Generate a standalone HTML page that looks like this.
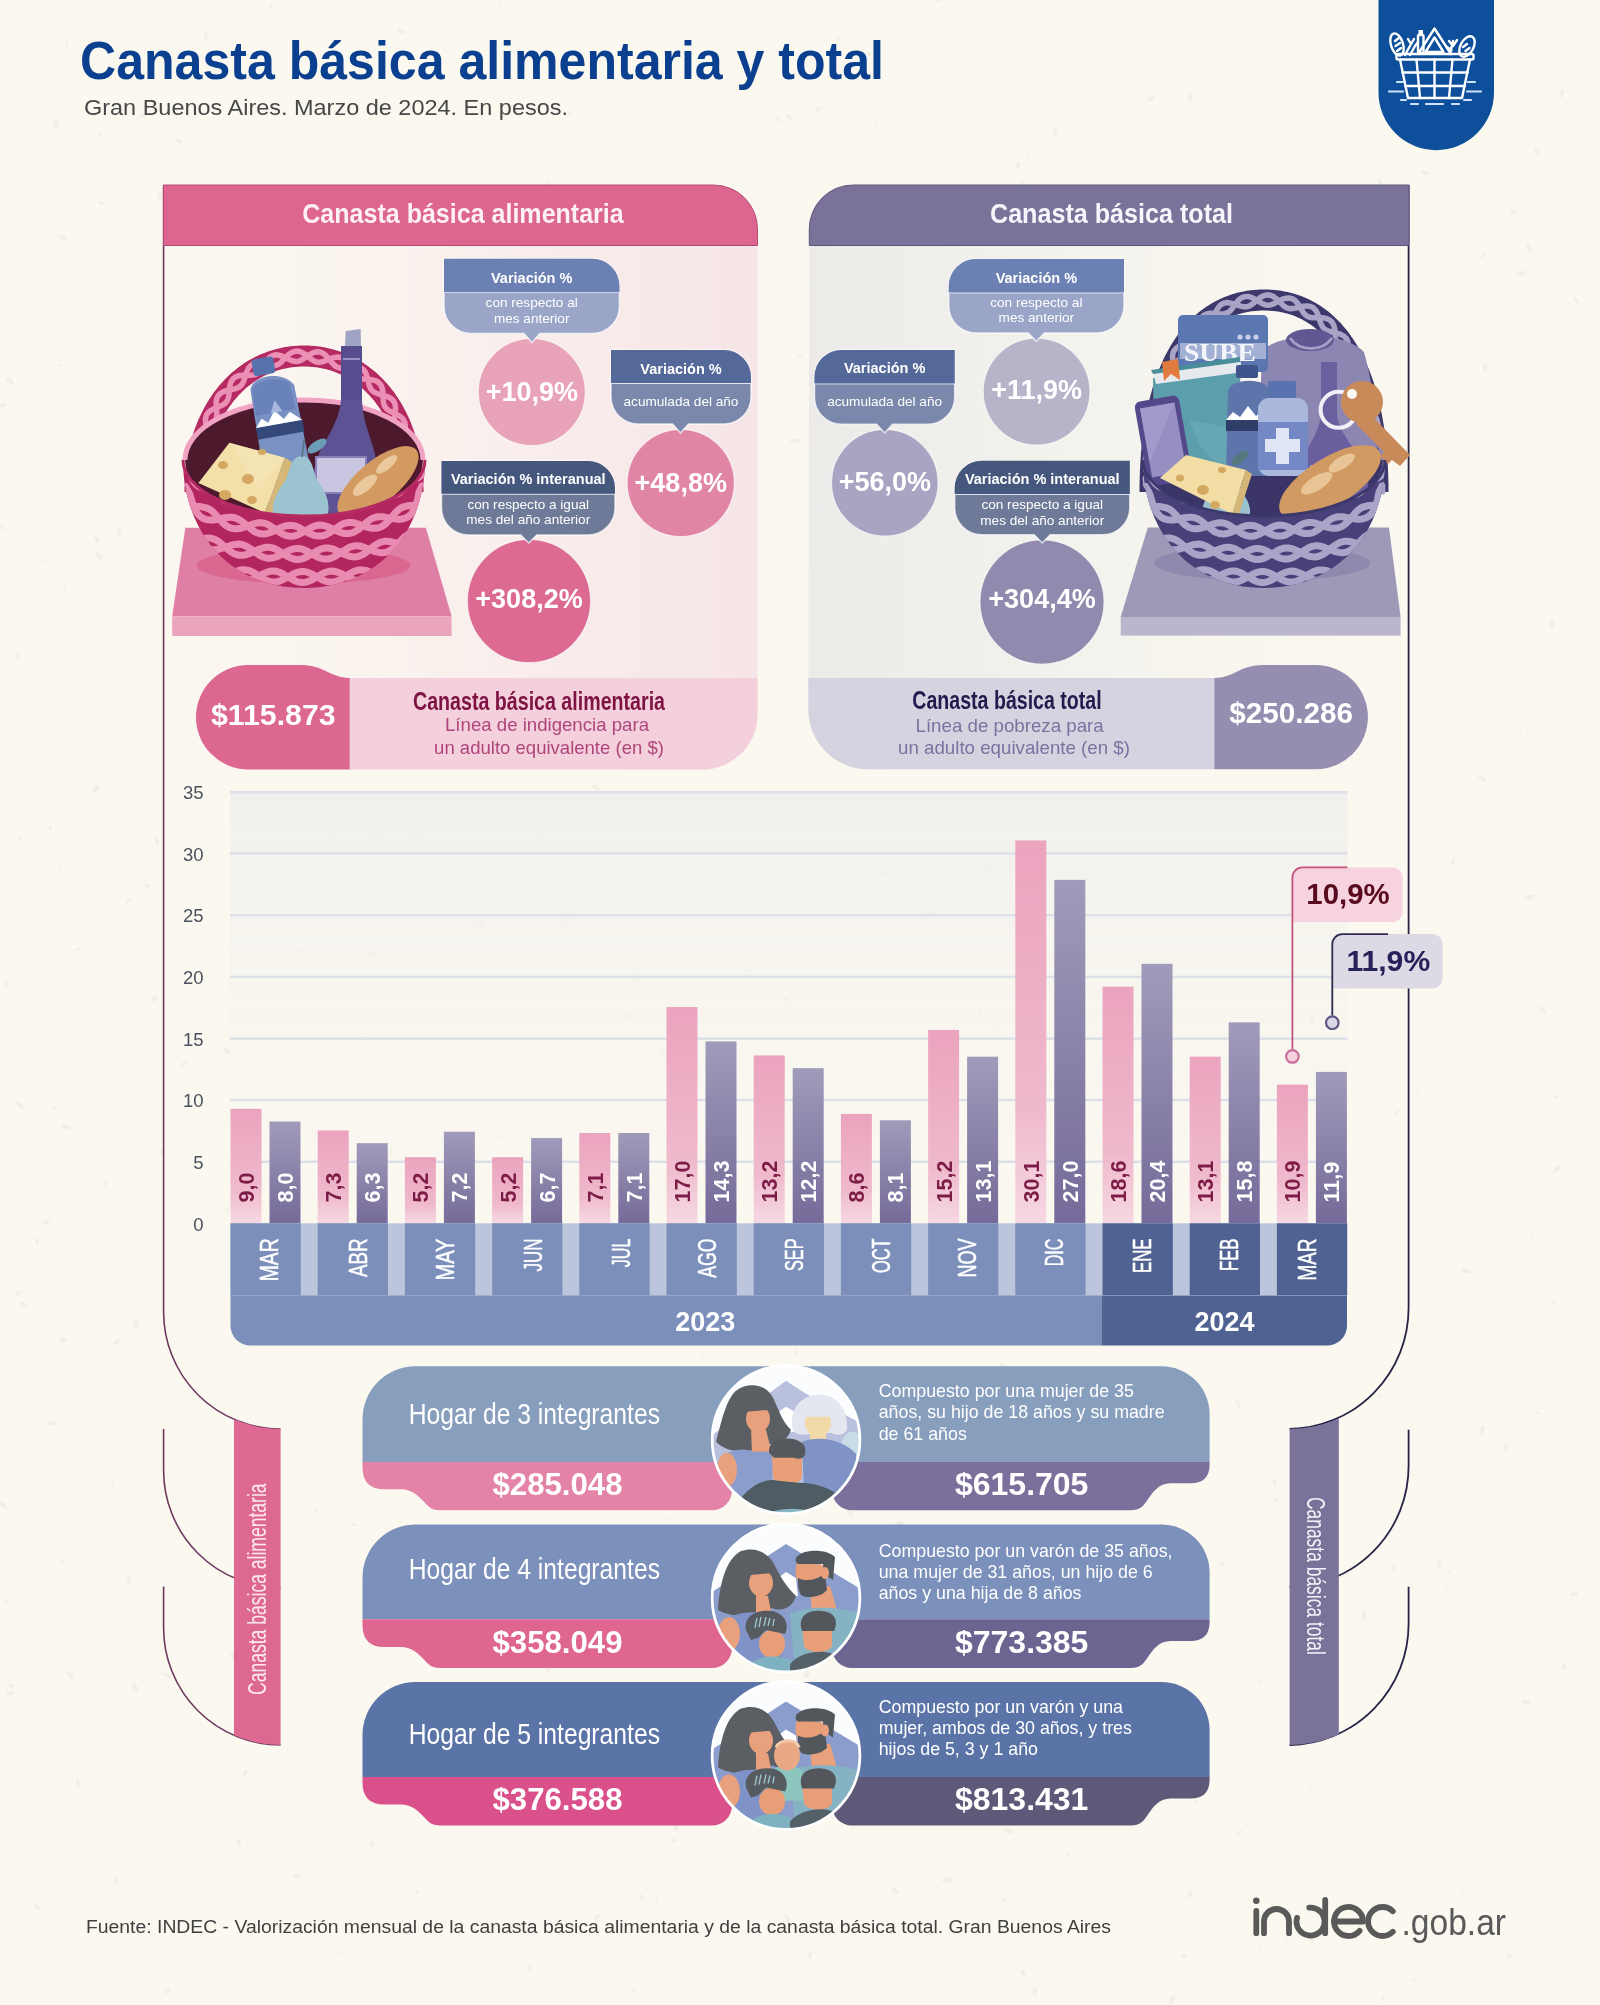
<!DOCTYPE html><html><head><meta charset="utf-8"><title>Canasta básica</title><style>html,body{margin:0;padding:0;background:#fbf8f0;width:1600px;height:2005px;overflow:hidden;}svg text{font-family:"Liberation Sans",sans-serif;}</style></head><body><svg width="1600" height="2005" viewBox="0 0 1600 2005" font-family='"Liberation Sans", sans-serif' style="display:block"><defs><linearGradient id="gL" x1="0" x2="1" y1="0" y2="0"><stop offset="0" stop-color="#fbf8f0"/><stop offset="0.35" stop-color="#faf3ee"/><stop offset="1" stop-color="#f6e5e7"/></linearGradient><linearGradient id="gR" x1="0" x2="1" y1="0" y2="0"><stop offset="0" stop-color="#ecebe9"/><stop offset="0.65" stop-color="#f7f5ee"/><stop offset="1" stop-color="#fbf8f0"/></linearGradient><clipPath id="clipLb"><path d="M183,460 A121,56 0 0 0 425,460 C425,530 380,588 304,588 C228,588 183,530 183,460 Z"/></clipPath><clipPath id="clipRb"><path d="M1143,460 A121,56 0 0 0 1385,460 C1385,530 1340,588 1264,588 C1188,588 1143,530 1143,460 Z"/></clipPath><linearGradient id="gPlot" x1="0" x2="0" y1="0" y2="1"><stop offset="0" stop-color="#f0efeb"/><stop offset="1" stop-color="#faf8f1" stop-opacity="0"/></linearGradient><linearGradient id="gPink" x1="0" x2="0" y1="0" y2="1"><stop offset="0" stop-color="#eba3be"/><stop offset="0.7" stop-color="#efb9cc"/><stop offset="1" stop-color="#f6d8e2"/></linearGradient><linearGradient id="gPurp" x1="0" x2="0" y1="0" y2="1"><stop offset="0" stop-color="#a09bba"/><stop offset="1" stop-color="#756a99"/></linearGradient><clipPath id="famclip1"><circle cx="80" cy="80" r="73.5"/></clipPath><clipPath id="famclip2"><circle cx="80" cy="80" r="73.5"/></clipPath><clipPath id="famclip3"><circle cx="80" cy="80" r="73.5"/></clipPath></defs><rect width="1600" height="2005" fill="#fbf8f0"/><g fill="#ece8de" opacity="0.55"><ellipse cx="518" cy="302" rx="3.8" ry="1.9" transform="rotate(26 518 302)"/><ellipse cx="857" cy="733" rx="1.7" ry="0.9" transform="rotate(183 857 733)"/><ellipse cx="60" cy="869" rx="1.7" ry="0.9" transform="rotate(33 60 869)"/><ellipse cx="679" cy="1658" rx="1.9" ry="1.0" transform="rotate(80 679 1658)"/><ellipse cx="1004" cy="1900" rx="3.5" ry="1.8" transform="rotate(143 1004 1900)"/><ellipse cx="1562" cy="93" rx="4.5" ry="2.3" transform="rotate(104 1562 93)"/><ellipse cx="231" cy="236" rx="2.6" ry="1.3" transform="rotate(294 231 236)"/><ellipse cx="289" cy="1166" rx="3.7" ry="1.9" transform="rotate(134 289 1166)"/><ellipse cx="876" cy="126" rx="1.7" ry="0.9" transform="rotate(74 876 126)"/><ellipse cx="1089" cy="857" rx="2.6" ry="1.3" transform="rotate(211 1089 857)"/><ellipse cx="725" cy="601" rx="4.3" ry="2.1" transform="rotate(252 725 601)"/><ellipse cx="391" cy="1152" rx="3.3" ry="1.7" transform="rotate(315 391 1152)"/><ellipse cx="1167" cy="577" rx="4.9" ry="2.5" transform="rotate(43 1167 577)"/><ellipse cx="669" cy="1518" rx="2.0" ry="1.0" transform="rotate(176 669 1518)"/><ellipse cx="63" cy="1340" rx="4.2" ry="2.1" transform="rotate(206 63 1340)"/><ellipse cx="1401" cy="629" rx="3.9" ry="2.0" transform="rotate(214 1401 629)"/><ellipse cx="928" cy="915" rx="4.4" ry="2.2" transform="rotate(340 928 915)"/><ellipse cx="759" cy="1332" rx="1.7" ry="0.9" transform="rotate(253 759 1332)"/><ellipse cx="1035" cy="1991" rx="4.4" ry="2.2" transform="rotate(102 1035 1991)"/><ellipse cx="617" cy="1341" rx="1.6" ry="0.8" transform="rotate(166 617 1341)"/><ellipse cx="269" cy="235" rx="1.7" ry="0.9" transform="rotate(277 269 235)"/><ellipse cx="207" cy="496" rx="2.9" ry="1.4" transform="rotate(314 207 496)"/><ellipse cx="129" cy="901" rx="3.4" ry="1.7" transform="rotate(318 129 901)"/><ellipse cx="1311" cy="1732" rx="2.5" ry="1.2" transform="rotate(150 1311 1732)"/><ellipse cx="574" cy="1773" rx="4.9" ry="2.4" transform="rotate(54 574 1773)"/><ellipse cx="282" cy="465" rx="2.3" ry="1.2" transform="rotate(175 282 465)"/><ellipse cx="943" cy="527" rx="1.5" ry="0.8" transform="rotate(151 943 527)"/><ellipse cx="591" cy="1136" rx="4.8" ry="2.4" transform="rotate(249 591 1136)"/><ellipse cx="825" cy="1238" rx="3.9" ry="1.9" transform="rotate(19 825 1238)"/><ellipse cx="1439" cy="1564" rx="4.6" ry="2.3" transform="rotate(287 1439 1564)"/><ellipse cx="628" cy="800" rx="1.9" ry="0.9" transform="rotate(228 628 800)"/><ellipse cx="100" cy="135" rx="2.2" ry="1.1" transform="rotate(58 100 135)"/><ellipse cx="544" cy="105" rx="1.5" ry="0.8" transform="rotate(54 544 105)"/><ellipse cx="162" cy="729" rx="1.6" ry="0.8" transform="rotate(315 162 729)"/><ellipse cx="983" cy="298" rx="2.4" ry="1.2" transform="rotate(125 983 298)"/><ellipse cx="583" cy="246" rx="4.5" ry="2.2" transform="rotate(358 583 246)"/><ellipse cx="746" cy="970" rx="1.8" ry="0.9" transform="rotate(37 746 970)"/><ellipse cx="548" cy="531" rx="4.4" ry="2.2" transform="rotate(58 548 531)"/><ellipse cx="37" cy="1907" rx="3.3" ry="1.7" transform="rotate(53 37 1907)"/><ellipse cx="869" cy="54" rx="3.3" ry="1.7" transform="rotate(352 869 54)"/><ellipse cx="1381" cy="1396" rx="2.4" ry="1.2" transform="rotate(132 1381 1396)"/><ellipse cx="267" cy="1548" rx="3.4" ry="1.7" transform="rotate(280 267 1548)"/><ellipse cx="527" cy="447" rx="4.3" ry="2.2" transform="rotate(355 527 447)"/><ellipse cx="1364" cy="1616" rx="4.4" ry="2.2" transform="rotate(266 1364 1616)"/><ellipse cx="363" cy="1038" rx="2.7" ry="1.4" transform="rotate(10 363 1038)"/><ellipse cx="45" cy="560" rx="2.4" ry="1.2" transform="rotate(249 45 560)"/><ellipse cx="1530" cy="897" rx="4.8" ry="2.4" transform="rotate(356 1530 897)"/><ellipse cx="1528" cy="731" rx="2.3" ry="1.1" transform="rotate(82 1528 731)"/><ellipse cx="315" cy="410" rx="3.7" ry="1.8" transform="rotate(324 315 410)"/><ellipse cx="1345" cy="961" rx="3.8" ry="1.9" transform="rotate(288 1345 961)"/><ellipse cx="136" cy="1324" rx="4.7" ry="2.3" transform="rotate(282 136 1324)"/><ellipse cx="1200" cy="958" rx="2.1" ry="1.1" transform="rotate(284 1200 958)"/><ellipse cx="532" cy="1606" rx="4.9" ry="2.5" transform="rotate(143 532 1606)"/><ellipse cx="642" cy="1898" rx="4.0" ry="2.0" transform="rotate(61 642 1898)"/><ellipse cx="203" cy="303" rx="4.7" ry="2.3" transform="rotate(290 203 303)"/><ellipse cx="234" cy="1657" rx="4.9" ry="2.5" transform="rotate(237 234 1657)"/><ellipse cx="561" cy="1100" rx="2.0" ry="1.0" transform="rotate(5 561 1100)"/><ellipse cx="1553" cy="1303" rx="3.3" ry="1.7" transform="rotate(336 1553 1303)"/><ellipse cx="694" cy="1748" rx="4.4" ry="2.2" transform="rotate(76 694 1748)"/><ellipse cx="403" cy="587" rx="2.3" ry="1.2" transform="rotate(211 403 587)"/><ellipse cx="415" cy="840" rx="2.0" ry="1.0" transform="rotate(328 415 840)"/><ellipse cx="566" cy="919" rx="3.5" ry="1.8" transform="rotate(326 566 919)"/><ellipse cx="673" cy="1840" rx="3.3" ry="1.6" transform="rotate(191 673 1840)"/><ellipse cx="838" cy="38" rx="3.0" ry="1.5" transform="rotate(66 838 38)"/><ellipse cx="6" cy="1602" rx="2.1" ry="1.1" transform="rotate(170 6 1602)"/><ellipse cx="1160" cy="1116" rx="2.6" ry="1.3" transform="rotate(187 1160 1116)"/><ellipse cx="889" cy="1572" rx="1.9" ry="0.9" transform="rotate(202 889 1572)"/><ellipse cx="398" cy="555" rx="4.2" ry="2.1" transform="rotate(183 398 555)"/><ellipse cx="899" cy="1524" rx="4.7" ry="2.3" transform="rotate(160 899 1524)"/><ellipse cx="980" cy="1014" rx="3.3" ry="1.6" transform="rotate(249 980 1014)"/><ellipse cx="724" cy="1069" rx="3.2" ry="1.6" transform="rotate(339 724 1069)"/><ellipse cx="1119" cy="1757" rx="4.8" ry="2.4" transform="rotate(93 1119 1757)"/><ellipse cx="895" cy="1891" rx="4.4" ry="2.2" transform="rotate(49 895 1891)"/><ellipse cx="195" cy="886" rx="1.8" ry="0.9" transform="rotate(87 195 886)"/><ellipse cx="117" cy="1342" rx="4.2" ry="2.1" transform="rotate(323 117 1342)"/><ellipse cx="247" cy="1436" rx="3.8" ry="1.9" transform="rotate(51 247 1436)"/><ellipse cx="1413" cy="1940" rx="2.3" ry="1.1" transform="rotate(343 1413 1940)"/><ellipse cx="637" cy="977" rx="5.0" ry="2.5" transform="rotate(300 637 977)"/><ellipse cx="258" cy="865" rx="3.3" ry="1.7" transform="rotate(122 258 865)"/><ellipse cx="313" cy="639" rx="4.0" ry="2.0" transform="rotate(7 313 639)"/><ellipse cx="886" cy="883" rx="1.6" ry="0.8" transform="rotate(119 886 883)"/><ellipse cx="998" cy="1027" rx="1.7" ry="0.9" transform="rotate(355 998 1027)"/><ellipse cx="1261" cy="1948" rx="1.9" ry="0.9" transform="rotate(96 1261 1948)"/><ellipse cx="63" cy="1562" rx="2.4" ry="1.2" transform="rotate(47 63 1562)"/><ellipse cx="676" cy="1827" rx="4.4" ry="2.2" transform="rotate(93 676 1827)"/><ellipse cx="239" cy="1843" rx="3.5" ry="1.7" transform="rotate(252 239 1843)"/><ellipse cx="143" cy="115" rx="3.9" ry="2.0" transform="rotate(153 143 115)"/><ellipse cx="116" cy="1881" rx="3.7" ry="1.9" transform="rotate(289 116 1881)"/><ellipse cx="134" cy="1717" rx="1.7" ry="0.9" transform="rotate(311 134 1717)"/><ellipse cx="726" cy="680" rx="3.4" ry="1.7" transform="rotate(334 726 680)"/><ellipse cx="429" cy="259" rx="3.3" ry="1.7" transform="rotate(86 429 259)"/><ellipse cx="175" cy="324" rx="1.7" ry="0.8" transform="rotate(73 175 324)"/><ellipse cx="499" cy="612" rx="4.2" ry="2.1" transform="rotate(104 499 612)"/><ellipse cx="800" cy="357" rx="2.7" ry="1.4" transform="rotate(7 800 357)"/><ellipse cx="401" cy="31" rx="4.1" ry="2.0" transform="rotate(198 401 31)"/><ellipse cx="303" cy="952" rx="4.8" ry="2.4" transform="rotate(38 303 952)"/><ellipse cx="1310" cy="867" rx="3.2" ry="1.6" transform="rotate(300 1310 867)"/><ellipse cx="629" cy="1016" rx="3.9" ry="2.0" transform="rotate(354 629 1016)"/><ellipse cx="548" cy="1669" rx="4.0" ry="2.0" transform="rotate(229 548 1669)"/><ellipse cx="648" cy="697" rx="1.7" ry="0.8" transform="rotate(47 648 697)"/><ellipse cx="113" cy="1485" rx="2.4" ry="1.2" transform="rotate(59 113 1485)"/><ellipse cx="135" cy="1687" rx="4.5" ry="2.3" transform="rotate(241 135 1687)"/><ellipse cx="451" cy="486" rx="2.5" ry="1.3" transform="rotate(165 451 486)"/><ellipse cx="252" cy="894" rx="2.4" ry="1.2" transform="rotate(346 252 894)"/><ellipse cx="1556" cy="1097" rx="2.4" ry="1.2" transform="rotate(348 1556 1097)"/><ellipse cx="495" cy="715" rx="1.5" ry="0.8" transform="rotate(137 495 715)"/><ellipse cx="759" cy="1008" rx="2.2" ry="1.1" transform="rotate(182 759 1008)"/><ellipse cx="8" cy="530" rx="1.8" ry="0.9" transform="rotate(144 8 530)"/><ellipse cx="67" cy="45" rx="2.6" ry="1.3" transform="rotate(84 67 45)"/><ellipse cx="937" cy="1061" rx="4.1" ry="2.1" transform="rotate(237 937 1061)"/><ellipse cx="1146" cy="1763" rx="2.9" ry="1.4" transform="rotate(117 1146 1763)"/><ellipse cx="1576" cy="300" rx="4.0" ry="2.0" transform="rotate(232 1576 300)"/><ellipse cx="70" cy="1675" rx="4.6" ry="2.3" transform="rotate(226 70 1675)"/><ellipse cx="1174" cy="1628" rx="2.0" ry="1.0" transform="rotate(189 1174 1628)"/><ellipse cx="807" cy="1674" rx="4.3" ry="2.2" transform="rotate(298 807 1674)"/><ellipse cx="934" cy="1790" rx="3.9" ry="1.9" transform="rotate(250 934 1790)"/><ellipse cx="368" cy="62" rx="2.0" ry="1.0" transform="rotate(130 368 62)"/><ellipse cx="168" cy="1676" rx="3.5" ry="1.7" transform="rotate(226 168 1676)"/><ellipse cx="1002" cy="1365" rx="3.2" ry="1.6" transform="rotate(1 1002 1365)"/><ellipse cx="1276" cy="1500" rx="3.3" ry="1.6" transform="rotate(193 1276 1500)"/><ellipse cx="1055" cy="132" rx="4.1" ry="2.0" transform="rotate(91 1055 132)"/><ellipse cx="119" cy="532" rx="4.1" ry="2.0" transform="rotate(74 119 532)"/><ellipse cx="1184" cy="1956" rx="3.2" ry="1.6" transform="rotate(138 1184 1956)"/><ellipse cx="766" cy="1371" rx="4.2" ry="2.1" transform="rotate(222 766 1371)"/><ellipse cx="1028" cy="155" rx="2.0" ry="1.0" transform="rotate(91 1028 155)"/><ellipse cx="1189" cy="610" rx="3.5" ry="1.7" transform="rotate(4 1189 610)"/><ellipse cx="97" cy="539" rx="3.9" ry="1.9" transform="rotate(249 97 539)"/><ellipse cx="1081" cy="583" rx="3.3" ry="1.7" transform="rotate(167 1081 583)"/><ellipse cx="746" cy="238" rx="4.6" ry="2.3" transform="rotate(72 746 238)"/><ellipse cx="1565" cy="1877" rx="1.6" ry="0.8" transform="rotate(165 1565 1877)"/><ellipse cx="1312" cy="1941" rx="3.1" ry="1.5" transform="rotate(97 1312 1941)"/><ellipse cx="336" cy="1896" rx="2.2" ry="1.1" transform="rotate(209 336 1896)"/><ellipse cx="227" cy="1051" rx="4.8" ry="2.4" transform="rotate(48 227 1051)"/><ellipse cx="1312" cy="1020" rx="4.6" ry="2.3" transform="rotate(253 1312 1020)"/><ellipse cx="370" cy="1800" rx="3.2" ry="1.6" transform="rotate(9 370 1800)"/><ellipse cx="6" cy="986" rx="3.1" ry="1.5" transform="rotate(109 6 986)"/><ellipse cx="225" cy="690" rx="2.6" ry="1.3" transform="rotate(302 225 690)"/><ellipse cx="3" cy="1505" rx="4.4" ry="2.2" transform="rotate(43 3 1505)"/><ellipse cx="1482" cy="1430" rx="4.7" ry="2.3" transform="rotate(104 1482 1430)"/><ellipse cx="596" cy="788" rx="5.0" ry="2.5" transform="rotate(212 596 788)"/><ellipse cx="577" cy="858" rx="2.5" ry="1.2" transform="rotate(17 577 858)"/><ellipse cx="163" cy="1674" rx="2.5" ry="1.2" transform="rotate(337 163 1674)"/><ellipse cx="399" cy="533" rx="3.3" ry="1.6" transform="rotate(68 399 533)"/><ellipse cx="597" cy="1917" rx="4.6" ry="2.3" transform="rotate(292 597 1917)"/><ellipse cx="1009" cy="1831" rx="4.8" ry="2.4" transform="rotate(198 1009 1831)"/><ellipse cx="1151" cy="99" rx="4.1" ry="2.0" transform="rotate(162 1151 99)"/><ellipse cx="1204" cy="1292" rx="2.5" ry="1.3" transform="rotate(18 1204 1292)"/><ellipse cx="1483" cy="255" rx="3.2" ry="1.6" transform="rotate(124 1483 255)"/><ellipse cx="476" cy="1482" rx="4.9" ry="2.5" transform="rotate(94 476 1482)"/><ellipse cx="1050" cy="603" rx="3.5" ry="1.7" transform="rotate(142 1050 603)"/><ellipse cx="268" cy="324" rx="2.2" ry="1.1" transform="rotate(326 268 324)"/><ellipse cx="795" cy="441" rx="4.7" ry="2.3" transform="rotate(359 795 441)"/><ellipse cx="720" cy="280" rx="2.2" ry="1.1" transform="rotate(33 720 280)"/><ellipse cx="547" cy="183" rx="2.3" ry="1.2" transform="rotate(93 547 183)"/><ellipse cx="911" cy="1779" rx="4.1" ry="2.1" transform="rotate(149 911 1779)"/><ellipse cx="662" cy="1051" rx="2.8" ry="1.4" transform="rotate(122 662 1051)"/><ellipse cx="99" cy="556" rx="4.9" ry="2.4" transform="rotate(45 99 556)"/><ellipse cx="805" cy="1262" rx="4.5" ry="2.3" transform="rotate(78 805 1262)"/><ellipse cx="434" cy="498" rx="2.9" ry="1.4" transform="rotate(161 434 498)"/><ellipse cx="1526" cy="1702" rx="4.6" ry="2.3" transform="rotate(8 1526 1702)"/><ellipse cx="52" cy="1423" rx="4.6" ry="2.3" transform="rotate(170 52 1423)"/><ellipse cx="939" cy="0" rx="2.9" ry="1.4" transform="rotate(334 939 0)"/><ellipse cx="1321" cy="1715" rx="4.9" ry="2.5" transform="rotate(89 1321 1715)"/><ellipse cx="174" cy="310" rx="3.3" ry="1.7" transform="rotate(246 174 310)"/><ellipse cx="1506" cy="1447" rx="3.8" ry="1.9" transform="rotate(275 1506 1447)"/><ellipse cx="732" cy="1106" rx="1.6" ry="0.8" transform="rotate(282 732 1106)"/><ellipse cx="372" cy="1844" rx="3.8" ry="1.9" transform="rotate(109 372 1844)"/><ellipse cx="205" cy="505" rx="3.7" ry="1.9" transform="rotate(251 205 505)"/><ellipse cx="179" cy="141" rx="3.3" ry="1.7" transform="rotate(210 179 141)"/><ellipse cx="621" cy="448" rx="3.6" ry="1.8" transform="rotate(4 621 448)"/><ellipse cx="482" cy="924" rx="4.9" ry="2.4" transform="rotate(232 482 924)"/><ellipse cx="1414" cy="953" rx="2.3" ry="1.2" transform="rotate(89 1414 953)"/><ellipse cx="1537" cy="1413" rx="2.6" ry="1.3" transform="rotate(8 1537 1413)"/><ellipse cx="797" cy="1352" rx="3.0" ry="1.5" transform="rotate(93 797 1352)"/><ellipse cx="1068" cy="1855" rx="2.3" ry="1.1" transform="rotate(12 1068 1855)"/><ellipse cx="541" cy="843" rx="3.9" ry="1.9" transform="rotate(71 541 843)"/><ellipse cx="1275" cy="1482" rx="3.3" ry="1.6" transform="rotate(74 1275 1482)"/><ellipse cx="1552" cy="625" rx="4.4" ry="2.2" transform="rotate(83 1552 625)"/><ellipse cx="354" cy="1525" rx="2.5" ry="1.3" transform="rotate(343 354 1525)"/><ellipse cx="793" cy="376" rx="2.3" ry="1.1" transform="rotate(150 793 376)"/><ellipse cx="1064" cy="1902" rx="2.0" ry="1.0" transform="rotate(142 1064 1902)"/><ellipse cx="341" cy="1953" rx="2.0" ry="1.0" transform="rotate(19 341 1953)"/><ellipse cx="96" cy="789" rx="4.6" ry="2.3" transform="rotate(318 96 789)"/><ellipse cx="1172" cy="2000" rx="4.8" ry="2.4" transform="rotate(119 1172 2000)"/><ellipse cx="297" cy="1876" rx="4.1" ry="2.1" transform="rotate(11 297 1876)"/><ellipse cx="1063" cy="759" rx="2.8" ry="1.4" transform="rotate(119 1063 759)"/><ellipse cx="271" cy="6" rx="2.5" ry="1.2" transform="rotate(127 271 6)"/><ellipse cx="1529" cy="248" rx="4.9" ry="2.4" transform="rotate(75 1529 248)"/><ellipse cx="571" cy="1647" rx="4.4" ry="2.2" transform="rotate(156 571 1647)"/><ellipse cx="79" cy="949" rx="2.8" ry="1.4" transform="rotate(331 79 949)"/><ellipse cx="309" cy="730" rx="4.6" ry="2.3" transform="rotate(11 309 730)"/><ellipse cx="657" cy="1628" rx="4.2" ry="2.1" transform="rotate(15 657 1628)"/><ellipse cx="56" cy="125" rx="4.7" ry="2.4" transform="rotate(93 56 125)"/><ellipse cx="1196" cy="1802" rx="2.7" ry="1.3" transform="rotate(98 1196 1802)"/><ellipse cx="1532" cy="1237" rx="2.4" ry="1.2" transform="rotate(258 1532 1237)"/><ellipse cx="506" cy="553" rx="1.5" ry="0.8" transform="rotate(272 506 553)"/><ellipse cx="1466" cy="1271" rx="4.8" ry="2.4" transform="rotate(9 1466 1271)"/><ellipse cx="374" cy="953" rx="4.8" ry="2.4" transform="rotate(343 374 953)"/><ellipse cx="618" cy="503" rx="3.0" ry="1.5" transform="rotate(178 618 503)"/><ellipse cx="1485" cy="367" rx="4.3" ry="2.2" transform="rotate(266 1485 367)"/><ellipse cx="1316" cy="1549" rx="3.6" ry="1.8" transform="rotate(118 1316 1549)"/><ellipse cx="511" cy="726" rx="4.2" ry="2.1" transform="rotate(28 511 726)"/><ellipse cx="316" cy="1510" rx="2.4" ry="1.2" transform="rotate(23 316 1510)"/><ellipse cx="54" cy="1108" rx="2.6" ry="1.3" transform="rotate(353 54 1108)"/><ellipse cx="1414" cy="1981" rx="2.4" ry="1.2" transform="rotate(30 1414 1981)"/><ellipse cx="154" cy="999" rx="4.0" ry="2.0" transform="rotate(161 154 999)"/><ellipse cx="375" cy="836" rx="3.7" ry="1.8" transform="rotate(243 375 836)"/><ellipse cx="1197" cy="1698" rx="3.8" ry="1.9" transform="rotate(44 1197 1698)"/><ellipse cx="1345" cy="589" rx="3.5" ry="1.7" transform="rotate(134 1345 589)"/><ellipse cx="1181" cy="399" rx="2.4" ry="1.2" transform="rotate(88 1181 399)"/><ellipse cx="245" cy="1773" rx="3.5" ry="1.8" transform="rotate(117 245 1773)"/><ellipse cx="634" cy="1990" rx="3.3" ry="1.6" transform="rotate(83 634 1990)"/><ellipse cx="1294" cy="1310" rx="5.0" ry="2.5" transform="rotate(37 1294 1310)"/><ellipse cx="760" cy="1642" rx="4.4" ry="2.2" transform="rotate(329 760 1642)"/><ellipse cx="65" cy="589" rx="1.9" ry="1.0" transform="rotate(68 65 589)"/><ellipse cx="1557" cy="1169" rx="4.8" ry="2.4" transform="rotate(134 1557 1169)"/><ellipse cx="1386" cy="900" rx="2.4" ry="1.2" transform="rotate(280 1386 900)"/><ellipse cx="1513" cy="212" rx="3.6" ry="1.8" transform="rotate(223 1513 212)"/><ellipse cx="348" cy="739" rx="2.0" ry="1.0" transform="rotate(73 348 739)"/><ellipse cx="408" cy="1202" rx="3.8" ry="1.9" transform="rotate(73 408 1202)"/><ellipse cx="18" cy="656" rx="3.9" ry="1.9" transform="rotate(67 18 656)"/><ellipse cx="500" cy="408" rx="4.3" ry="2.1" transform="rotate(197 500 408)"/><ellipse cx="101" cy="203" rx="2.9" ry="1.4" transform="rotate(198 101 203)"/><ellipse cx="1023" cy="183" rx="2.1" ry="1.0" transform="rotate(250 1023 183)"/><ellipse cx="656" cy="568" rx="2.6" ry="1.3" transform="rotate(343 656 568)"/><ellipse cx="500" cy="1136" rx="2.8" ry="1.4" transform="rotate(150 500 1136)"/><ellipse cx="1383" cy="1998" rx="2.8" ry="1.4" transform="rotate(71 1383 1998)"/><ellipse cx="1165" cy="408" rx="1.5" ry="0.8" transform="rotate(325 1165 408)"/><ellipse cx="678" cy="1645" rx="2.9" ry="1.5" transform="rotate(318 678 1645)"/><ellipse cx="737" cy="326" rx="1.6" ry="0.8" transform="rotate(199 737 326)"/><ellipse cx="1025" cy="1824" rx="1.8" ry="0.9" transform="rotate(224 1025 1824)"/><ellipse cx="593" cy="1011" rx="2.0" ry="1.0" transform="rotate(102 593 1011)"/><ellipse cx="834" cy="1856" rx="1.9" ry="0.9" transform="rotate(177 834 1856)"/><ellipse cx="1288" cy="1939" rx="2.2" ry="1.1" transform="rotate(46 1288 1939)"/><ellipse cx="1509" cy="1956" rx="3.2" ry="1.6" transform="rotate(19 1509 1956)"/><ellipse cx="1482" cy="778" rx="4.7" ry="2.3" transform="rotate(223 1482 778)"/><ellipse cx="1319" cy="321" rx="4.3" ry="2.1" transform="rotate(80 1319 321)"/><ellipse cx="647" cy="1697" rx="4.4" ry="2.2" transform="rotate(66 647 1697)"/><ellipse cx="349" cy="801" rx="3.3" ry="1.7" transform="rotate(138 349 801)"/><ellipse cx="197" cy="495" rx="4.0" ry="2.0" transform="rotate(323 197 495)"/><ellipse cx="66" cy="1127" rx="4.2" ry="2.1" transform="rotate(14 66 1127)"/><ellipse cx="1341" cy="236" rx="3.6" ry="1.8" transform="rotate(198 1341 236)"/><ellipse cx="1003" cy="614" rx="3.0" ry="1.5" transform="rotate(210 1003 614)"/><ellipse cx="681" cy="1321" rx="3.1" ry="1.5" transform="rotate(158 681 1321)"/><ellipse cx="37" cy="1241" rx="3.2" ry="1.6" transform="rotate(85 37 1241)"/><ellipse cx="1222" cy="1564" rx="3.1" ry="1.6" transform="rotate(65 1222 1564)"/><ellipse cx="757" cy="215" rx="1.9" ry="1.0" transform="rotate(155 757 215)"/><ellipse cx="147" cy="886" rx="3.3" ry="1.6" transform="rotate(15 147 886)"/><ellipse cx="1018" cy="165" rx="4.1" ry="2.0" transform="rotate(280 1018 165)"/><ellipse cx="818" cy="109" rx="3.3" ry="1.6" transform="rotate(136 818 109)"/><ellipse cx="1521" cy="273" rx="4.5" ry="2.2" transform="rotate(359 1521 273)"/><ellipse cx="1171" cy="1634" rx="2.2" ry="1.1" transform="rotate(353 1171 1634)"/><ellipse cx="787" cy="1918" rx="4.7" ry="2.4" transform="rotate(59 787 1918)"/><ellipse cx="1261" cy="1866" rx="1.7" ry="0.9" transform="rotate(126 1261 1866)"/><ellipse cx="1210" cy="318" rx="4.6" ry="2.3" transform="rotate(99 1210 318)"/><ellipse cx="1305" cy="288" rx="3.3" ry="1.6" transform="rotate(331 1305 288)"/><ellipse cx="333" cy="527" rx="3.3" ry="1.6" transform="rotate(115 333 527)"/><ellipse cx="59" cy="365" rx="2.1" ry="1.0" transform="rotate(337 59 365)"/><ellipse cx="1087" cy="1795" rx="2.1" ry="1.0" transform="rotate(283 1087 1795)"/><ellipse cx="184" cy="1064" rx="3.7" ry="1.9" transform="rotate(130 184 1064)"/><ellipse cx="1397" cy="1113" rx="3.5" ry="1.8" transform="rotate(318 1397 1113)"/><ellipse cx="167" cy="1991" rx="3.7" ry="1.9" transform="rotate(142 167 1991)"/><ellipse cx="1276" cy="531" rx="5.0" ry="2.5" transform="rotate(208 1276 531)"/><ellipse cx="576" cy="1533" rx="3.0" ry="1.5" transform="rotate(64 576 1533)"/><ellipse cx="1190" cy="97" rx="4.4" ry="2.2" transform="rotate(91 1190 97)"/><ellipse cx="1023" cy="1973" rx="3.6" ry="1.8" transform="rotate(239 1023 1973)"/><ellipse cx="500" cy="4" rx="1.6" ry="0.8" transform="rotate(54 500 4)"/><ellipse cx="986" cy="867" rx="3.3" ry="1.6" transform="rotate(322 986 867)"/><ellipse cx="211" cy="456" rx="3.8" ry="1.9" transform="rotate(8 211 456)"/><ellipse cx="4" cy="712" rx="1.9" ry="0.9" transform="rotate(129 4 712)"/><ellipse cx="359" cy="1170" rx="3.6" ry="1.8" transform="rotate(74 359 1170)"/><ellipse cx="998" cy="952" rx="2.0" ry="1.0" transform="rotate(337 998 952)"/><ellipse cx="390" cy="299" rx="1.8" ry="0.9" transform="rotate(230 390 299)"/><ellipse cx="1394" cy="1568" rx="2.9" ry="1.5" transform="rotate(95 1394 1568)"/><ellipse cx="18" cy="1293" rx="3.5" ry="1.7" transform="rotate(126 18 1293)"/><ellipse cx="1033" cy="890" rx="4.8" ry="2.4" transform="rotate(264 1033 890)"/><ellipse cx="398" cy="1812" rx="1.7" ry="0.8" transform="rotate(191 398 1812)"/><ellipse cx="650" cy="477" rx="1.7" ry="0.9" transform="rotate(280 650 477)"/><ellipse cx="20" cy="1105" rx="4.8" ry="2.4" transform="rotate(51 20 1105)"/><ellipse cx="319" cy="1219" rx="3.3" ry="1.6" transform="rotate(231 319 1219)"/><ellipse cx="1301" cy="350" rx="2.6" ry="1.3" transform="rotate(108 1301 350)"/><ellipse cx="78" cy="1783" rx="4.2" ry="2.1" transform="rotate(258 78 1783)"/><ellipse cx="10" cy="1693" rx="4.1" ry="2.1" transform="rotate(167 10 1693)"/><ellipse cx="1187" cy="907" rx="2.3" ry="1.1" transform="rotate(38 1187 907)"/><ellipse cx="372" cy="78" rx="2.7" ry="1.3" transform="rotate(270 372 78)"/><ellipse cx="1112" cy="1695" rx="4.0" ry="2.0" transform="rotate(96 1112 1695)"/><ellipse cx="886" cy="874" rx="4.3" ry="2.1" transform="rotate(188 886 874)"/><ellipse cx="424" cy="1287" rx="4.9" ry="2.4" transform="rotate(78 424 1287)"/><ellipse cx="1408" cy="31" rx="2.4" ry="1.2" transform="rotate(85 1408 31)"/><ellipse cx="1190" cy="1894" rx="4.1" ry="2.1" transform="rotate(118 1190 1894)"/><ellipse cx="1408" cy="659" rx="2.3" ry="1.2" transform="rotate(327 1408 659)"/><ellipse cx="1009" cy="1389" rx="3.8" ry="1.9" transform="rotate(352 1009 1389)"/><ellipse cx="751" cy="1684" rx="3.9" ry="2.0" transform="rotate(309 751 1684)"/><ellipse cx="700" cy="1453" rx="3.5" ry="1.7" transform="rotate(111 700 1453)"/><ellipse cx="339" cy="1248" rx="1.8" ry="0.9" transform="rotate(328 339 1248)"/><ellipse cx="231" cy="54" rx="1.9" ry="0.9" transform="rotate(334 231 54)"/><ellipse cx="552" cy="284" rx="1.6" ry="0.8" transform="rotate(15 552 284)"/><ellipse cx="1108" cy="1271" rx="3.9" ry="2.0" transform="rotate(265 1108 1271)"/><ellipse cx="105" cy="1184" rx="2.8" ry="1.4" transform="rotate(294 105 1184)"/><ellipse cx="1311" cy="1787" rx="1.7" ry="0.9" transform="rotate(312 1311 1787)"/><ellipse cx="1463" cy="1893" rx="1.9" ry="0.9" transform="rotate(74 1463 1893)"/><ellipse cx="179" cy="69" rx="4.5" ry="2.2" transform="rotate(292 179 69)"/><ellipse cx="1015" cy="1654" rx="3.7" ry="1.9" transform="rotate(103 1015 1654)"/><ellipse cx="160" cy="196" rx="4.2" ry="2.1" transform="rotate(74 160 196)"/><ellipse cx="511" cy="850" rx="1.6" ry="0.8" transform="rotate(92 511 850)"/><ellipse cx="452" cy="1435" rx="2.8" ry="1.4" transform="rotate(115 452 1435)"/><ellipse cx="1542" cy="1010" rx="4.5" ry="2.2" transform="rotate(223 1542 1010)"/><ellipse cx="50" cy="828" rx="3.0" ry="1.5" transform="rotate(278 50 828)"/><ellipse cx="555" cy="1413" rx="3.4" ry="1.7" transform="rotate(78 555 1413)"/><ellipse cx="1380" cy="182" rx="4.4" ry="2.2" transform="rotate(61 1380 182)"/><ellipse cx="2" cy="405" rx="4.2" ry="2.1" transform="rotate(352 2 405)"/><ellipse cx="7" cy="984" rx="3.2" ry="1.6" transform="rotate(287 7 984)"/><ellipse cx="295" cy="992" rx="2.7" ry="1.4" transform="rotate(299 295 992)"/><ellipse cx="417" cy="1892" rx="2.5" ry="1.2" transform="rotate(77 417 1892)"/><ellipse cx="1119" cy="999" rx="1.9" ry="0.9" transform="rotate(229 1119 999)"/><ellipse cx="129" cy="1580" rx="3.9" ry="2.0" transform="rotate(283 129 1580)"/><ellipse cx="1005" cy="713" rx="2.9" ry="1.5" transform="rotate(142 1005 713)"/><ellipse cx="1425" cy="173" rx="4.6" ry="2.3" transform="rotate(9 1425 173)"/><ellipse cx="330" cy="528" rx="4.7" ry="2.3" transform="rotate(180 330 528)"/><ellipse cx="607" cy="1772" rx="2.3" ry="1.2" transform="rotate(166 607 1772)"/><ellipse cx="850" cy="1513" rx="4.1" ry="2.1" transform="rotate(233 850 1513)"/><ellipse cx="558" cy="655" rx="2.0" ry="1.0" transform="rotate(304 558 655)"/><ellipse cx="1059" cy="1488" rx="2.1" ry="1.0" transform="rotate(158 1059 1488)"/><ellipse cx="1237" cy="1161" rx="1.9" ry="1.0" transform="rotate(166 1237 1161)"/><ellipse cx="1416" cy="477" rx="2.2" ry="1.1" transform="rotate(109 1416 477)"/><ellipse cx="1125" cy="1692" rx="2.0" ry="1.0" transform="rotate(56 1125 1692)"/><ellipse cx="396" cy="655" rx="3.3" ry="1.7" transform="rotate(58 396 655)"/><ellipse cx="525" cy="379" rx="4.9" ry="2.5" transform="rotate(262 525 379)"/><ellipse cx="163" cy="1930" rx="1.9" ry="0.9" transform="rotate(138 163 1930)"/><ellipse cx="1574" cy="1594" rx="4.1" ry="2.0" transform="rotate(157 1574 1594)"/><ellipse cx="314" cy="1279" rx="1.9" ry="0.9" transform="rotate(74 314 1279)"/><ellipse cx="621" cy="68" rx="2.9" ry="1.4" transform="rotate(285 621 68)"/><ellipse cx="1110" cy="1003" rx="3.7" ry="1.9" transform="rotate(167 1110 1003)"/><ellipse cx="227" cy="1210" rx="2.9" ry="1.5" transform="rotate(267 227 1210)"/><ellipse cx="1453" cy="862" rx="3.5" ry="1.8" transform="rotate(270 1453 862)"/><ellipse cx="674" cy="458" rx="4.0" ry="2.0" transform="rotate(317 674 458)"/><ellipse cx="1238" cy="1404" rx="4.5" ry="2.2" transform="rotate(245 1238 1404)"/><ellipse cx="1026" cy="910" rx="2.6" ry="1.3" transform="rotate(226 1026 910)"/><ellipse cx="157" cy="841" rx="4.2" ry="2.1" transform="rotate(257 157 841)"/><ellipse cx="1007" cy="501" rx="3.0" ry="1.5" transform="rotate(164 1007 501)"/><ellipse cx="995" cy="821" rx="3.9" ry="1.9" transform="rotate(335 995 821)"/><ellipse cx="293" cy="1312" rx="4.2" ry="2.1" transform="rotate(140 293 1312)"/><ellipse cx="784" cy="1954" rx="1.6" ry="0.8" transform="rotate(196 784 1954)"/><ellipse cx="257" cy="1567" rx="4.8" ry="2.4" transform="rotate(187 257 1567)"/><ellipse cx="162" cy="1152" rx="3.4" ry="1.7" transform="rotate(258 162 1152)"/><ellipse cx="820" cy="1282" rx="4.4" ry="2.2" transform="rotate(188 820 1282)"/><ellipse cx="657" cy="1901" rx="2.2" ry="1.1" transform="rotate(246 657 1901)"/><ellipse cx="628" cy="1529" rx="1.9" ry="1.0" transform="rotate(354 628 1529)"/><ellipse cx="569" cy="114" rx="2.5" ry="1.2" transform="rotate(144 569 114)"/><ellipse cx="21" cy="839" rx="3.0" ry="1.5" transform="rotate(251 21 839)"/><ellipse cx="563" cy="532" rx="2.3" ry="1.1" transform="rotate(267 563 532)"/><ellipse cx="1504" cy="1057" rx="2.3" ry="1.1" transform="rotate(289 1504 1057)"/><ellipse cx="627" cy="425" rx="2.0" ry="1.0" transform="rotate(280 627 425)"/><ellipse cx="1295" cy="1272" rx="3.1" ry="1.6" transform="rotate(202 1295 1272)"/><ellipse cx="362" cy="1933" rx="2.7" ry="1.4" transform="rotate(230 362 1933)"/><ellipse cx="1310" cy="1636" rx="3.1" ry="1.6" transform="rotate(106 1310 1636)"/><ellipse cx="877" cy="251" rx="4.4" ry="2.2" transform="rotate(128 877 251)"/><ellipse cx="1361" cy="536" rx="2.8" ry="1.4" transform="rotate(91 1361 536)"/><ellipse cx="682" cy="373" rx="1.5" ry="0.8" transform="rotate(260 682 373)"/><ellipse cx="450" cy="491" rx="2.6" ry="1.3" transform="rotate(173 450 491)"/><ellipse cx="686" cy="1278" rx="3.8" ry="1.9" transform="rotate(130 686 1278)"/><ellipse cx="1486" cy="1713" rx="1.7" ry="0.8" transform="rotate(298 1486 1713)"/><ellipse cx="1449" cy="1572" rx="2.0" ry="1.0" transform="rotate(299 1449 1572)"/><ellipse cx="1013" cy="30" rx="1.5" ry="0.8" transform="rotate(343 1013 30)"/><ellipse cx="1050" cy="501" rx="1.9" ry="0.9" transform="rotate(51 1050 501)"/><ellipse cx="374" cy="1556" rx="2.7" ry="1.4" transform="rotate(55 374 1556)"/><ellipse cx="1447" cy="1587" rx="2.1" ry="1.0" transform="rotate(321 1447 1587)"/><ellipse cx="973" cy="1566" rx="3.8" ry="1.9" transform="rotate(322 973 1566)"/><ellipse cx="1261" cy="1682" rx="2.2" ry="1.1" transform="rotate(249 1261 1682)"/><ellipse cx="849" cy="1488" rx="3.0" ry="1.5" transform="rotate(318 849 1488)"/><ellipse cx="888" cy="530" rx="2.3" ry="1.2" transform="rotate(50 888 530)"/><ellipse cx="789" cy="117" rx="3.1" ry="1.6" transform="rotate(52 789 117)"/><ellipse cx="786" cy="999" rx="3.4" ry="1.7" transform="rotate(311 786 999)"/><ellipse cx="11" cy="1686" rx="3.1" ry="1.6" transform="rotate(203 11 1686)"/><ellipse cx="1064" cy="1685" rx="2.8" ry="1.4" transform="rotate(151 1064 1685)"/><ellipse cx="1537" cy="151" rx="3.7" ry="1.9" transform="rotate(229 1537 151)"/><ellipse cx="46" cy="1222" rx="3.9" ry="1.9" transform="rotate(335 46 1222)"/><ellipse cx="529" cy="1968" rx="3.3" ry="1.6" transform="rotate(174 529 1968)"/><ellipse cx="1436" cy="68" rx="4.0" ry="2.0" transform="rotate(225 1436 68)"/><ellipse cx="542" cy="1728" rx="2.8" ry="1.4" transform="rotate(171 542 1728)"/><ellipse cx="841" cy="1545" rx="2.2" ry="1.1" transform="rotate(157 841 1545)"/><ellipse cx="676" cy="1111" rx="4.4" ry="2.2" transform="rotate(105 676 1111)"/><ellipse cx="1324" cy="809" rx="3.3" ry="1.6" transform="rotate(98 1324 809)"/><ellipse cx="810" cy="1955" rx="3.8" ry="1.9" transform="rotate(285 810 1955)"/><ellipse cx="529" cy="636" rx="2.5" ry="1.3" transform="rotate(211 529 636)"/><ellipse cx="1016" cy="1572" rx="1.6" ry="0.8" transform="rotate(260 1016 1572)"/><ellipse cx="1417" cy="1094" rx="1.7" ry="0.8" transform="rotate(108 1417 1094)"/><ellipse cx="10" cy="381" rx="4.7" ry="2.4" transform="rotate(219 10 381)"/><ellipse cx="1053" cy="1582" rx="4.7" ry="2.3" transform="rotate(220 1053 1582)"/><ellipse cx="987" cy="1257" rx="3.9" ry="2.0" transform="rotate(215 987 1257)"/><ellipse cx="1090" cy="426" rx="3.8" ry="1.9" transform="rotate(165 1090 426)"/><ellipse cx="1220" cy="203" rx="2.1" ry="1.1" transform="rotate(13 1220 203)"/><ellipse cx="1239" cy="1833" rx="3.8" ry="1.9" transform="rotate(133 1239 1833)"/><ellipse cx="1316" cy="1577" rx="3.5" ry="1.7" transform="rotate(93 1316 1577)"/><ellipse cx="483" cy="846" rx="2.6" ry="1.3" transform="rotate(155 483 846)"/><ellipse cx="1027" cy="1872" rx="1.7" ry="0.8" transform="rotate(204 1027 1872)"/><ellipse cx="63" cy="238" rx="4.3" ry="2.2" transform="rotate(207 63 238)"/><ellipse cx="1470" cy="895" rx="1.5" ry="0.8" transform="rotate(139 1470 895)"/><ellipse cx="947" cy="1880" rx="4.9" ry="2.5" transform="rotate(171 947 1880)"/><ellipse cx="660" cy="205" rx="3.8" ry="1.9" transform="rotate(76 660 205)"/><ellipse cx="243" cy="31" rx="1.5" ry="0.8" transform="rotate(246 243 31)"/><ellipse cx="195" cy="1938" rx="1.8" ry="0.9" transform="rotate(313 195 1938)"/><ellipse cx="206" cy="36" rx="4.0" ry="2.0" transform="rotate(87 206 36)"/><ellipse cx="1174" cy="376" rx="1.7" ry="0.8" transform="rotate(279 1174 376)"/><ellipse cx="1142" cy="1715" rx="4.1" ry="2.0" transform="rotate(30 1142 1715)"/><ellipse cx="1006" cy="1422" rx="3.1" ry="1.6" transform="rotate(336 1006 1422)"/><ellipse cx="406" cy="1933" rx="4.0" ry="2.0" transform="rotate(4 406 1933)"/><ellipse cx="24" cy="1305" rx="4.4" ry="2.2" transform="rotate(29 24 1305)"/><ellipse cx="498" cy="1463" rx="2.1" ry="1.0" transform="rotate(310 498 1463)"/><ellipse cx="778" cy="120" rx="2.8" ry="1.4" transform="rotate(207 778 120)"/><ellipse cx="702" cy="1357" rx="2.0" ry="1.0" transform="rotate(287 702 1357)"/><ellipse cx="581" cy="1293" rx="3.7" ry="1.9" transform="rotate(150 581 1293)"/><ellipse cx="617" cy="1576" rx="4.8" ry="2.4" transform="rotate(282 617 1576)"/><ellipse cx="907" cy="586" rx="1.7" ry="0.9" transform="rotate(351 907 586)"/><ellipse cx="1125" cy="1659" rx="2.7" ry="1.3" transform="rotate(218 1125 1659)"/><ellipse cx="1564" cy="1667" rx="3.6" ry="1.8" transform="rotate(111 1564 1667)"/><ellipse cx="686" cy="1781" rx="2.8" ry="1.4" transform="rotate(247 686 1781)"/><ellipse cx="963" cy="1797" rx="4.3" ry="2.2" transform="rotate(102 963 1797)"/><ellipse cx="3" cy="527" rx="3.0" ry="1.5" transform="rotate(211 3 527)"/><ellipse cx="1306" cy="1779" rx="1.6" ry="0.8" transform="rotate(300 1306 1779)"/></g>
<text x="80" y="79" font-size="53" fill="#0b3f8f" font-weight="bold" text-anchor="start" textLength="804" lengthAdjust="spacingAndGlyphs" >Canasta básica alimentaria y total</text>
<text x="84" y="115" font-size="22.5" fill="#474747" font-weight="normal" text-anchor="start" textLength="484" lengthAdjust="spacingAndGlyphs" >Gran Buenos Aires. Marzo de 2024. En pesos.</text>
<path d="M1378.5,-5 H1494 V92.5 A57.75,57.75 0 0 1 1378.5,92.5 Z" fill="#0e4f9b"/>
<g fill="none" stroke="#ffffff" stroke-width="2.4" stroke-linecap="round" stroke-linejoin="round"><path d="M1400,59.5 L1408,98 H1462 L1470,59.5"/><rect x="1396.5" y="54" width="77" height="5.5" rx="1.5"/><path d="M1416.5,59.5 L1420,98 M1434.5,59.5 V98 M1452.5,59.5 L1449,98 M1402.5,72.5 H1467.5 M1405.3,86 H1464.7"/><path d="M1418,54 L1434.5,28.5 L1451,54 M1425.5,52 L1434.5,37.5 L1443.5,52 Z"/><ellipse cx="1397" cy="44.5" rx="6" ry="11.5" transform="rotate(-18 1397 44.5)"/><path d="M1395,41 L1399,38 M1395.5,46 L1400,43 M1397,51 L1401,48"/><path d="M1405,55 L1411,44 M1410,55 L1415,46 M1411,44 L1408,39 M1411,44 L1414,39 M1415,46 L1418,42"/><rect x="1418" y="35" width="5.5" height="18" rx="1"/><path d="M1450,54 L1453,41 M1453,46 L1449,41 M1453,46 L1457,40 M1451.5,50 L1447,47"/><ellipse cx="1467" cy="46.5" rx="6.5" ry="11" transform="rotate(28 1467 46.5)"/><path d="M1463,47 L1467,44 M1465.5,51 L1469.5,48"/></g><rect x="1418.5" y="30" width="4.5" height="4" fill="#ffffff"/><g stroke="#cfe3ff" stroke-width="2.2" stroke-linecap="round"><path d="M1397,82 H1403 M1468,82 H1475 M1389,91.5 H1403 M1467,91.5 H1481 M1401,100 H1406 M1464,100 H1471 M1411,104 H1418 M1426,104 H1443 M1452,104 H1459"/></g>
<path d="M163.5,245.5 H757.5 V714.4 A55,55 0 0 1 702.5,769.4 H163.5 Z" fill="url(#gL)"/>
<path d="M809.3,245.5 H1409 V769.2 H868.3 A60,60 0 0 1 808.3,709.2 Z" fill="url(#gR)"/>
<path d="M163.6,185 V1312 A117,117 0 0 0 280.6,1429" fill="none" stroke="#6e3a60" stroke-width="1.6"/>
<path d="M1408.6,185 V1308 A121,121 0 0 1 1289.6,1429" fill="none" stroke="#27244a" stroke-width="1.8"/>
<path d="M163.5,185 H713.5 A44,44 0 0 1 757.5,229 V245.5 H163.5 Z" fill="#dc6690" stroke="#b24a73" stroke-width="1"/>
<path d="M809.3,245.5 V229 A44,44 0 0 1 853.3,185 H1409 V245.5 Z" fill="#7b7299" stroke="#5d557d" stroke-width="1"/>
<text x="463" y="222.5" font-size="28" fill="#fdf0f5" font-weight="bold" text-anchor="middle" textLength="321.5" lengthAdjust="spacingAndGlyphs" >Canasta básica alimentaria</text>
<text x="1111.5" y="222.5" font-size="28" fill="#f7f5fb" font-weight="bold" text-anchor="middle" textLength="243" lengthAdjust="spacingAndGlyphs" >Canasta básica total</text>
<polygon points="185.3,527.75 425.9,527.75 451.6,616.3 172.2,616.3" fill="#e07fa6"/>
<rect x="172.2" y="616.3" width="279.4" height="19.7" fill="#eba4be"/>
<polygon points="1147.8,527.6 1389,527.6 1400.6,617 1120.7,617" fill="#9e99b7"/>
<rect x="1120.7" y="617" width="279.9" height="18.6" fill="#bab6cd"/>
<ellipse cx="303.4" cy="565.6" rx="107" ry="18" fill="#d9678f"/>
<path d="M195.0,492.0 L195.0,488.0 L195.2,484.0 L195.3,480.0 L195.6,476.2 L196.0,472.3 L196.4,468.5 L196.9,464.8 L197.4,461.1 L198.1,457.4 L198.8,453.8 L199.5,450.3 L200.4,446.8 L201.3,443.3 L202.3,439.9 L203.3,436.6 L204.4,433.3 L205.6,430.1 L206.8,426.9 L208.1,423.8 L209.5,420.7 L210.9,417.7 L212.4,414.8 L213.9,411.9 L215.5,409.1 L217.2,406.4 L218.9,403.7 L220.6,401.1 L222.5,398.5 L224.3,396.0 L226.2,393.6 L228.2,391.3 L230.3,389.0 L232.3,386.8 L234.5,384.6 L236.6,382.5 L238.8,380.5 L241.1,378.6 L243.4,376.8 L245.8,375.0 L248.2,373.3 L250.6,371.6 L253.1,370.1 L255.6,368.6 L258.2,367.2 L260.8,365.9 L263.5,364.6 L266.1,363.5 L268.9,362.4 L271.6,361.4 L274.4,360.4 L277.2,359.6 L280.1,358.9 L283.0,358.2 L285.9,357.6 L288.8,357.1 L291.8,356.7 L294.8,356.4 L297.9,356.2 L300.9,356.0 L304.0,356.0 L307.1,356.0 L310.1,356.2 L313.2,356.4 L316.2,356.7 L319.2,357.1 L322.1,357.6 L325.0,358.2 L327.9,358.9 L330.8,359.6 L333.6,360.4 L336.4,361.4 L339.1,362.4 L341.9,363.5 L344.5,364.6 L347.2,365.9 L349.8,367.2 L352.4,368.6 L354.9,370.1 L357.4,371.6 L359.8,373.3 L362.2,375.0 L364.6,376.8 L366.9,378.6 L369.2,380.5 L371.4,382.5 L373.5,384.6 L375.7,386.8 L377.7,389.0 L379.8,391.3 L381.8,393.6 L383.7,396.0 L385.5,398.5 L387.4,401.1 L389.1,403.7 L390.8,406.4 L392.5,409.1 L394.1,411.9 L395.6,414.8 L397.1,417.7 L398.5,420.7 L399.9,423.8 L401.2,426.9 L402.4,430.1 L403.6,433.3 L404.7,436.6 L405.7,439.9 L406.7,443.3 L407.6,446.8 L408.5,450.3 L409.2,453.8 L409.9,457.4 L410.6,461.1 L411.1,464.8 L411.6,468.5 L412.0,472.3 L412.4,476.2 L412.7,480.0 L412.8,484.0 L413.0,488.0 L413.0,492.0" fill="none" stroke="#b52a62" stroke-width="21"/>
<path d="M195.0,492.0 L197.9,488.0 L199.9,484.2 L200.5,480.4 L199.6,476.5 L197.6,472.5 L195.2,468.4 L193.3,464.3 L192.5,460.3 L193.1,456.5 L195.1,453.1 L198.2,449.9 L201.6,447.1 L204.7,444.2 L207.0,441.3 L208.2,438.2 L208.2,434.6 L207.5,430.8 L206.4,426.7 L205.6,422.7 L205.4,418.9 L206.2,415.5 L208.1,412.6 L211.0,410.3 L214.5,408.5 L218.1,407.0 L221.6,405.5 L224.5,403.8 L226.7,401.6 L228.0,398.9 L228.8,395.7 L229.2,392.1 L229.5,388.3 L230.1,384.6 L231.3,381.4 L233.1,378.7 L235.6,376.9 L238.7,375.7 L242.3,375.2 L245.9,375.2 L249.5,375.2 L252.8,375.0 L255.7,374.4 L258.2,373.1 L260.2,371.1 L262.1,368.4 L263.8,365.4 L265.6,362.3 L267.7,359.3 L270.1,357.0 L272.9,355.5 L275.9,354.9 L279.2,355.3 L282.6,356.4 L285.9,357.9 L289.2,359.5 L292.3,360.8 L295.3,361.5 L298.2,361.3 L301.0,360.2 L304.0,358.4 L307.1,356.3 L310.3,354.2 L313.5,352.6 L316.8,351.8 L319.9,352.0 L322.9,353.2 L325.7,355.3 L328.1,358.0 L330.4,360.8 L332.6,363.5 L334.9,365.7 L337.3,367.2 L340.0,368.0 L343.0,368.0 L346.3,367.6 L349.9,367.0 L353.5,366.6 L356.9,366.7 L360.1,367.4 L362.7,369.0 L364.8,371.4 L366.4,374.5 L367.4,377.9 L368.3,381.5 L369.1,385.0 L370.3,388.0 L371.9,390.4 L374.2,392.2 L377.2,393.5 L380.6,394.6 L384.3,395.6 L387.9,396.8 L391.1,398.5 L393.5,400.9 L394.9,403.8 L395.5,407.4 L395.3,411.3 L394.7,415.3 L394.2,419.2 L394.2,422.7 L395.1,425.8 L397.0,428.6 L399.8,431.1 L403.2,433.4 L406.7,435.9 L409.7,438.7 L411.7,441.9 L412.3,445.6 L411.7,449.5 L410.1,453.6 L408.2,457.7 L406.6,461.7 L406.0,465.5 L406.8,469.1 L408.9,472.6 L411.9,476.2 L415.0,479.9 L417.3,483.8 L418.2,487.9 L417.3,492.0" fill="none" stroke="#ec8fb4" stroke-width="5.5" stroke-linecap="round"/><path d="M195.0,492.0 L192.2,487.9 L190.4,483.8 L190.2,479.7 L191.6,475.8 L194.3,472.1 L197.5,468.6 L200.4,465.3 L202.4,461.9 L203.0,458.3 L202.4,454.6 L200.9,450.6 L199.2,446.4 L197.9,442.4 L197.5,438.5 L198.4,435.0 L200.6,432.0 L203.7,429.4 L207.2,427.1 L210.7,424.9 L213.6,422.6 L215.6,420.0 L216.6,417.0 L216.8,413.6 L216.6,409.7 L216.2,405.8 L216.1,401.9 L216.8,398.4 L218.3,395.5 L220.6,393.2 L223.7,391.6 L227.3,390.5 L231.0,389.7 L234.5,388.9 L237.6,387.9 L240.2,386.3 L242.1,384.2 L243.5,381.5 L244.6,378.3 L245.6,374.8 L246.9,371.3 L248.4,368.2 L250.5,365.8 L253.1,364.1 L256.2,363.3 L259.6,363.3 L263.1,363.8 L266.6,364.7 L270.0,365.4 L273.1,365.7 L275.9,365.4 L278.5,364.3 L281.0,362.5 L283.4,360.0 L285.8,357.3 L288.5,354.7 L291.3,352.6 L294.4,351.4 L297.5,351.1 L300.8,351.9 L304.0,353.6 L307.1,355.8 L310.0,358.2 L312.8,360.2 L315.6,361.6 L318.4,362.2 L321.3,362.0 L324.4,361.1 L327.7,359.8 L331.1,358.4 L334.6,357.4 L337.9,357.0 L341.0,357.5 L343.7,358.9 L346.1,361.2 L348.0,364.1 L349.7,367.3 L351.2,370.5 L352.8,373.5 L354.7,375.8 L356.9,377.5 L359.6,378.5 L362.8,379.0 L366.3,379.3 L370.0,379.6 L373.6,380.1 L376.8,381.3 L379.4,383.2 L381.3,385.8 L382.4,389.0 L382.9,392.7 L383.1,396.5 L383.2,400.3 L383.7,403.6 L384.8,406.5 L386.7,408.9 L389.5,410.9 L392.9,412.6 L396.5,414.4 L400.0,416.3 L402.8,418.8 L404.6,421.7 L405.4,425.2 L405.0,429.1 L403.9,433.2 L402.7,437.2 L401.8,441.1 L401.7,444.7 L402.9,447.9 L405.2,451.0 L408.3,454.0 L411.7,457.1 L414.5,460.4 L416.2,464.0 L416.4,467.9 L415.1,472.0 L412.9,476.1 L410.3,480.2 L408.4,484.2 L407.8,488.1 L408.7,492.0" fill="none" stroke="#ec8fb4" stroke-width="5.5" stroke-linecap="round"/>
<ellipse cx="304" cy="460" rx="119" ry="60" fill="#4d1a2d"/>
<path d="M185,460 A119,60 0 0 1 423,460" fill="none" stroke="#f0a3c2" stroke-width="5"/>
<g transform="rotate(-10 278 420)"><rect x="262" y="356" width="22" height="17" rx="3" fill="#5673ad"/><path d="M256,388 C256,372 290,370 300,388 L302,500 H254 Z" fill="#7a91c4"/><path d="M258,386 C262,376 286,376 296,386 L297,412 H257 Z" fill="#6a82ba"/><rect x="255" y="424" width="47" height="12" fill="#34497a"/><path d="M255,424 L262,416 L268,421 L276,410 L284,420 L291,414 L302,424 Z" fill="#ffffff"/><path d="M272,412 L278,400 L284,412 Z" fill="#a9b8dd"/></g>
<path d="M345.6,331 L360.6,329 L361,348 L345,348 Z" fill="#9fa3c4"/><rect x="341" y="346" width="21" height="58" fill="#574c8e"/><rect x="343" y="358" width="17" height="2" fill="#9a92c8"/><path d="M341,400 C339,430 314,448 314,476 L316,516 H378 L378,476 C378,448 363,430 362,400 Z" fill="#5d5394"/><rect x="316" y="457" width="50" height="36" fill="#c9c6e2" stroke="#8a80b8" stroke-width="2"/>
<polygon points="198.4,483 229.4,442.8 284.7,457.8 265,513" fill="#f3e0a8"/><polygon points="284.7,457.8 292,462 274,516 265,513" fill="#d5b877"/><polygon points="229.4,442.8 284.7,457.8 258,490 " fill="#f7e8bd" opacity="0.5"/><g fill="#d4a860"><ellipse cx="223" cy="465" rx="5" ry="4"/><ellipse cx="248" cy="479" rx="6" ry="5"/><ellipse cx="262" cy="452" rx="4" ry="3"/><ellipse cx="225" cy="495" rx="6" ry="5"/><ellipse cx="252" cy="500" rx="5" ry="4"/></g>
<path d="M302,456 C312,456 313,470 317,480 C327,492 331,506 327,516 H274 C270,506 276,492 286,480 C290,470 291,456 302,456 Z" fill="#9cc3d0"/><path d="M304,440 L302,457" stroke="#56768a" stroke-width="2"/><ellipse cx="317" cy="446" rx="11" ry="5" transform="rotate(-35 317 446)" fill="#6c9db6"/>
<g transform="rotate(-40 378 482)"><ellipse cx="378" cy="482" rx="50" ry="21" fill="#d29a60"/><ellipse cx="366" cy="476" rx="15" ry="6" fill="#ebc89b"/><ellipse cx="396" cy="474" rx="13" ry="5" fill="#ebc89b"/></g>
<path d="M183,460 A121,56 0 0 0 425,460 C425,530 380,588 304,588 C228,588 183,530 183,460 Z" fill="#b3255f"/>
<g clip-path="url(#clipLb)"><path d="M174.0,452.0 L176.0,453.2 L178.0,454.3 L180.0,455.3 L178.3,454.0 L178.8,460.9 L182.2,466.1 L186.1,469.1 L189.8,470.9 L193.2,472.1 L196.2,473.1 L198.9,474.1 L201.3,475.1 L203.4,476.3 L205.2,477.7 L206.8,479.4 L208.3,481.3 L209.6,483.4 L211.0,485.6 L212.3,487.8 L213.7,490.1 L215.1,492.2 L216.7,494.3 L218.3,496.1 L220.1,497.7 L222.0,499.0 L224.0,499.9 L226.1,500.6 L228.3,501.0 L230.6,501.1 L232.9,500.9 L235.3,500.5 L237.7,500.0 L240.0,499.4 L242.3,498.8 L244.6,498.2 L246.9,497.8 L249.0,497.4 L251.1,497.3 L253.2,497.3 L255.1,497.6 L257.1,498.2 L258.9,498.9 L260.8,499.9 L262.6,501.1 L264.4,502.4 L266.2,503.9 L268.0,505.3 L269.9,506.8 L271.7,508.2 L273.6,509.5 L275.5,510.6 L277.5,511.5 L279.5,512.1 L281.5,512.5 L283.6,512.7 L285.6,512.5 L287.7,512.1 L289.8,511.4 L291.9,510.6 L293.9,509.6 L296.0,508.5 L298.0,507.4 L300.0,506.3 L302.0,505.2 L304.0,504.3 L306.0,503.5 L307.9,502.9 L309.9,502.5 L311.8,502.4 L313.8,502.5 L315.8,502.8 L317.8,503.4 L319.8,504.1 L321.8,505.0 L323.9,506.0 L326.0,507.0 L328.1,508.0 L330.2,509.0 L332.4,509.8 L334.5,510.4 L336.6,510.8 L338.7,511.0 L340.8,510.9 L342.8,510.5 L344.8,509.9 L346.8,509.0 L348.7,507.8 L350.5,506.5 L352.3,505.0 L354.1,503.4 L355.8,501.8 L357.6,500.2 L359.3,498.7 L361.0,497.3 L362.8,496.1 L364.6,495.0 L366.5,494.3 L368.4,493.7 L370.5,493.4 L372.6,493.3 L374.8,493.5 L377.1,493.7 L379.4,494.1 L381.9,494.5 L384.4,494.9 L386.9,495.2 L389.3,495.3 L391.8,495.2 L394.2,494.9 L396.5,494.2 L398.6,493.2 L400.6,491.8 L402.4,490.1 L404.1,488.1 L405.5,485.8 L406.8,483.2 L407.9,480.5 L409.0,477.8 L409.9,475.0 L411.0,472.3 L412.1,469.8 L413.6,467.4 L415.6,465.2 L418.5,462.8 L423.1,458.9 L428.8,453.6 L428.0,456.1 L430.0,456.8 L432.0,457.3 L434.0,457.5" fill="none" stroke="#e98bb0" stroke-width="7" stroke-linecap="round"/><path d="M174.0,452.0 L176.0,450.8 L178.0,449.7 L180.0,448.7 L185.7,450.0 L189.2,457.5 L189.8,462.7 L189.9,466.7 L190.2,470.6 L190.8,474.2 L191.8,477.5 L193.1,480.5 L194.7,482.9 L196.6,484.9 L198.8,486.5 L201.2,487.6 L203.7,488.4 L206.4,488.8 L209.0,489.0 L211.7,488.9 L214.3,488.8 L216.9,488.6 L219.3,488.5 L221.7,488.5 L223.9,488.7 L226.0,489.1 L228.0,489.7 L229.9,490.5 L231.7,491.6 L233.4,493.0 L235.1,494.5 L236.7,496.1 L238.3,497.8 L240.0,499.6 L241.7,501.4 L243.4,503.0 L245.1,504.5 L247.0,505.9 L248.9,507.0 L250.8,507.8 L252.9,508.4 L254.9,508.7 L257.1,508.7 L259.2,508.4 L261.4,507.9 L263.6,507.3 L265.8,506.5 L268.0,505.6 L270.1,504.7 L272.3,503.8 L274.4,503.0 L276.5,502.4 L278.5,501.9 L280.5,501.6 L282.5,501.6 L284.4,501.8 L286.4,502.3 L288.3,502.9 L290.2,503.8 L292.1,504.8 L294.1,506.0 L296.0,507.2 L298.0,508.5 L300.0,509.7 L302.0,510.8 L304.0,511.7 L306.0,512.5 L308.1,513.1 L310.1,513.3 L312.2,513.4 L314.2,513.1 L316.2,512.6 L318.2,511.8 L320.2,510.9 L322.2,509.7 L324.1,508.4 L326.0,507.1 L327.9,505.7 L329.8,504.4 L331.6,503.2 L333.5,502.1 L335.4,501.2 L337.3,500.5 L339.2,500.0 L341.2,499.8 L343.2,499.8 L345.2,500.1 L347.3,500.5 L349.5,501.1 L351.7,501.8 L353.9,502.6 L356.2,503.3 L358.4,504.0 L360.7,504.6 L363.0,505.0 L365.2,505.2 L367.4,505.1 L369.5,504.8 L371.6,504.2 L373.5,503.2 L375.4,502.0 L377.2,500.6 L378.9,498.9 L380.6,497.1 L382.1,495.1 L383.6,493.1 L385.1,491.2 L386.7,489.3 L388.2,487.5 L389.8,486.0 L391.5,484.6 L393.4,483.5 L395.4,482.7 L397.6,482.0 L399.9,481.6 L402.5,481.3 L405.2,481.0 L408.1,480.7 L411.0,480.2 L414.1,479.5 L417.0,478.3 L419.9,476.6 L422.4,474.1 L424.4,470.7 L425.5,466.0 L424.9,459.5 L423.2,450.4 L428.0,447.9 L430.0,447.2 L432.0,446.7 L434.0,446.5" fill="none" stroke="#e98bb0" stroke-width="7" stroke-linecap="round"/><path d="M174.0,489.0 L176.0,490.2 L178.0,491.3 L180.0,492.3 L178.6,491.5 L179.0,496.6 L181.7,500.9 L184.9,503.5 L188.1,505.0 L191.3,505.8 L194.2,506.2 L197.0,506.4 L199.7,506.6 L202.1,506.9 L204.3,507.3 L206.4,507.9 L208.4,508.7 L210.2,509.7 L211.9,511.0 L213.6,512.5 L215.1,514.1 L216.7,515.9 L218.3,517.8 L219.9,519.6 L221.5,521.5 L223.2,523.2 L224.9,524.7 L226.8,526.1 L228.7,527.2 L230.6,528.0 L232.7,528.6 L234.8,528.8 L237.0,528.8 L239.2,528.6 L241.4,528.1 L243.6,527.5 L245.8,526.7 L248.1,525.9 L250.3,525.1 L252.4,524.3 L254.6,523.6 L256.7,523.1 L258.7,522.8 L260.7,522.8 L262.7,522.9 L264.6,523.3 L266.6,524.0 L268.5,524.9 L270.3,525.9 L272.2,527.1 L274.1,528.4 L276.0,529.8 L277.9,531.1 L279.8,532.4 L281.8,533.6 L283.8,534.6 L285.7,535.3 L287.8,535.9 L289.8,536.2 L291.8,536.2 L293.9,536.0 L295.9,535.5 L297.9,534.8 L300.0,533.9 L302.0,532.8 L304.0,531.7 L306.0,530.5 L308.0,529.3 L310.0,528.2 L311.9,527.2 L313.9,526.3 L315.8,525.7 L317.8,525.3 L319.7,525.1 L321.7,525.2 L323.7,525.5 L325.7,526.1 L327.8,526.8 L329.8,527.7 L331.9,528.6 L334.0,529.6 L336.1,530.6 L338.2,531.6 L340.4,532.4 L342.5,533.0 L344.6,533.5 L346.7,533.6 L348.7,533.6 L350.8,533.2 L352.8,532.6 L354.7,531.7 L356.6,530.6 L358.5,529.3 L360.3,527.9 L362.1,526.3 L363.9,524.8 L365.6,523.2 L367.4,521.7 L369.1,520.4 L370.9,519.2 L372.8,518.2 L374.6,517.5 L376.6,517.0 L378.6,516.7 L380.7,516.7 L382.9,516.8 L385.1,517.2 L387.4,517.6 L389.8,518.1 L392.3,518.5 L394.7,518.9 L397.2,519.2 L399.6,519.2 L402.0,519.0 L404.3,518.4 L406.5,517.5 L408.6,516.3 L410.5,514.7 L412.2,512.7 L413.7,510.4 L415.0,507.8 L416.1,505.0 L417.0,502.1 L417.7,499.0 L418.2,496.0 L419.0,492.2 L422.0,486.1 L428.0,484.7 L430.0,485.6 L432.0,486.6 L434.0,487.7" fill="none" stroke="#e98bb0" stroke-width="7" stroke-linecap="round"/><path d="M174.0,489.0 L176.0,487.8 L178.0,486.7 L180.0,485.7 L185.4,486.5 L189.0,492.2 L190.3,495.7 L191.1,498.4 L191.9,501.2 L192.7,504.0 L193.8,506.8 L195.0,509.4 L196.3,511.9 L197.9,514.0 L199.7,515.9 L201.6,517.4 L203.6,518.6 L205.8,519.4 L208.1,519.9 L210.4,520.1 L212.9,520.0 L215.3,519.7 L217.7,519.3 L220.1,518.8 L222.5,518.3 L224.8,517.8 L227.1,517.5 L229.2,517.3 L231.3,517.3 L233.4,517.5 L235.3,517.9 L237.2,518.6 L239.0,519.6 L240.8,520.7 L242.6,522.0 L244.4,523.5 L246.2,525.0 L247.9,526.6 L249.7,528.1 L251.6,529.5 L253.4,530.8 L255.3,532.0 L257.3,532.8 L259.3,533.5 L261.3,533.8 L263.4,533.9 L265.4,533.8 L267.5,533.3 L269.7,532.7 L271.8,531.9 L273.9,531.0 L276.0,530.0 L278.1,528.9 L280.2,527.9 L282.2,527.0 L284.2,526.3 L286.3,525.7 L288.2,525.4 L290.2,525.2 L292.2,525.4 L294.1,525.7 L296.1,526.3 L298.1,527.1 L300.0,528.1 L302.0,529.2 L304.0,530.3 L306.0,531.5 L308.0,532.7 L310.0,533.7 L312.1,534.6 L314.1,535.4 L316.2,535.9 L318.2,536.1 L320.3,536.1 L322.3,535.8 L324.3,535.3 L326.3,534.5 L328.2,533.5 L330.2,532.4 L332.1,531.1 L334.0,529.7 L335.9,528.4 L337.8,527.0 L339.6,525.8 L341.5,524.7 L343.4,523.8 L345.3,523.1 L347.3,522.7 L349.2,522.5 L351.2,522.5 L353.3,522.8 L355.4,523.2 L357.5,523.9 L359.7,524.6 L361.9,525.4 L364.1,526.2 L366.4,526.9 L368.6,527.6 L370.9,528.0 L373.1,528.3 L375.2,528.3 L377.4,528.1 L379.4,527.5 L381.4,526.7 L383.3,525.6 L385.1,524.2 L386.9,522.6 L388.6,520.9 L390.2,519.0 L391.7,517.1 L393.3,515.2 L394.8,513.4 L396.4,511.7 L398.0,510.2 L399.7,508.8 L401.5,507.7 L403.4,506.9 L405.5,506.3 L407.8,505.8 L410.3,505.5 L413.0,505.2 L415.9,504.7 L419.0,504.1 L422.3,502.9 L425.8,500.6 L429.0,496.5 L430.0,491.9 L428.0,493.3 L430.0,492.4 L432.0,491.4 L434.0,490.3" fill="none" stroke="#e98bb0" stroke-width="7" stroke-linecap="round"/><path d="M174.0,526.0 L176.0,527.2 L178.0,528.3 L180.0,529.3 L179.2,529.1 L179.5,532.5 L182.0,535.9 L184.8,537.9 L187.6,539.0 L190.3,539.5 L193.0,539.7 L195.6,539.5 L198.1,539.2 L200.6,538.8 L202.9,538.5 L205.2,538.2 L207.4,538.1 L209.5,538.1 L211.5,538.4 L213.4,538.9 L215.3,539.6 L217.1,540.6 L218.9,541.8 L220.7,543.2 L222.4,544.6 L224.2,546.2 L225.9,547.8 L227.7,549.3 L229.5,550.8 L231.4,552.1 L233.3,553.3 L235.2,554.2 L237.2,554.8 L239.2,555.2 L241.3,555.3 L243.4,555.2 L245.5,554.8 L247.6,554.2 L249.7,553.4 L251.9,552.5 L254.0,551.5 L256.1,550.5 L258.2,549.6 L260.3,548.8 L262.4,548.1 L264.4,547.6 L266.4,547.3 L268.4,547.3 L270.4,547.5 L272.3,547.9 L274.3,548.6 L276.2,549.5 L278.1,550.5 L280.1,551.7 L282.0,553.0 L284.0,554.2 L285.9,555.5 L287.9,556.6 L289.9,557.6 L291.9,558.4 L293.9,559.0 L295.9,559.4 L297.9,559.5 L300.0,559.3 L302.0,558.8 L304.0,558.2 L306.0,557.3 L308.0,556.3 L310.0,555.1 L312.0,553.9 L314.0,552.7 L315.9,551.5 L317.9,550.5 L319.9,549.5 L321.8,548.8 L323.8,548.3 L325.8,548.0 L327.7,548.0 L329.7,548.3 L331.8,548.7 L333.8,549.4 L335.8,550.2 L337.9,551.2 L340.0,552.2 L342.0,553.2 L344.1,554.2 L346.2,555.1 L348.3,555.9 L350.4,556.5 L352.5,556.8 L354.6,556.9 L356.6,556.7 L358.6,556.3 L360.6,555.6 L362.5,554.7 L364.4,553.5 L366.3,552.2 L368.1,550.8 L370.0,549.3 L371.8,547.8 L373.6,546.4 L375.4,545.1 L377.2,543.9 L379.1,542.9 L381.0,542.1 L382.9,541.6 L384.9,541.3 L386.9,541.3 L389.0,541.5 L391.2,541.8 L393.4,542.3 L395.7,542.9 L398.0,543.6 L400.3,544.2 L402.7,544.7 L405.1,545.0 L407.5,545.1 L409.8,544.9 L412.1,544.5 L414.3,543.6 L416.4,542.4 L418.4,540.8 L420.2,538.7 L421.8,536.2 L423.0,533.1 L423.5,529.3 L424.1,523.8 L428.0,522.2 L430.0,521.4 L432.0,520.9 L434.0,520.6" fill="none" stroke="#e98bb0" stroke-width="7" stroke-linecap="round"/><path d="M174.0,526.0 L176.0,524.8 L178.0,523.7 L180.0,522.7 L184.8,522.9 L188.5,526.7 L190.0,528.5 L191.2,530.0 L192.4,531.7 L193.7,533.6 L195.0,535.7 L196.4,537.7 L197.9,539.8 L199.4,541.8 L201.1,543.6 L202.8,545.3 L204.6,546.8 L206.5,548.0 L208.5,548.9 L210.6,549.5 L212.7,549.8 L214.9,549.8 L217.1,549.6 L219.3,549.1 L221.6,548.5 L223.8,547.8 L226.1,547.0 L228.3,546.2 L230.5,545.5 L232.6,544.9 L234.7,544.4 L236.8,544.2 L238.8,544.1 L240.8,544.3 L242.7,544.8 L244.6,545.5 L246.5,546.4 L248.4,547.5 L250.3,548.7 L252.1,550.1 L254.0,551.5 L255.9,552.9 L257.8,554.2 L259.7,555.4 L261.6,556.4 L263.6,557.3 L265.6,557.9 L267.6,558.2 L269.6,558.3 L271.7,558.1 L273.7,557.7 L275.8,557.0 L277.9,556.2 L279.9,555.2 L282.0,554.1 L284.0,553.0 L286.1,551.9 L288.1,550.9 L290.1,550.0 L292.1,549.3 L294.1,548.8 L296.1,548.5 L298.1,548.5 L300.0,548.7 L302.0,549.2 L304.0,549.8 L306.0,550.7 L308.0,551.7 L310.0,552.8 L312.0,554.0 L314.0,555.1 L316.1,556.2 L318.1,557.2 L320.1,558.0 L322.2,558.6 L324.2,558.9 L326.2,559.0 L328.3,558.9 L330.3,558.4 L332.2,557.8 L334.2,556.9 L336.2,555.8 L338.1,554.6 L340.0,553.3 L342.0,551.9 L343.9,550.6 L345.8,549.4 L347.7,548.3 L349.6,547.3 L351.5,546.6 L353.4,546.1 L355.4,545.8 L357.4,545.8 L359.4,546.0 L361.5,546.5 L363.6,547.1 L365.7,547.9 L367.9,548.7 L370.0,549.6 L372.2,550.5 L374.4,551.3 L376.6,551.9 L378.8,552.4 L380.9,552.7 L383.0,552.7 L385.1,552.4 L387.1,551.8 L389.1,551.0 L391.0,549.9 L392.8,548.6 L394.6,547.1 L396.3,545.4 L398.0,543.7 L399.7,541.9 L401.3,540.2 L402.9,538.5 L404.5,537.0 L406.2,535.7 L407.9,534.5 L409.7,533.6 L411.6,532.9 L413.6,532.4 L415.8,532.1 L418.2,531.8 L421.0,531.3 L424.5,529.9 L427.9,528.2 L428.0,529.8 L430.0,530.6 L432.0,531.1 L434.0,531.4" fill="none" stroke="#e98bb0" stroke-width="7" stroke-linecap="round"/><path d="M174.0,563.0 L176.0,564.2 L178.0,565.3 L180.0,566.3 L180.3,566.8 L180.9,568.8 L183.4,570.9 L186.0,572.1 L188.4,572.7 L190.7,572.8 L193.0,572.7 L195.3,572.3 L197.6,571.7 L199.9,570.9 L202.1,570.1 L204.3,569.3 L206.4,568.5 L208.6,567.9 L210.6,567.4 L212.7,567.1 L214.7,567.0 L216.7,567.2 L218.6,567.6 L220.5,568.2 L222.4,569.1 L224.3,570.2 L226.2,571.4 L228.1,572.7 L230.0,574.1 L231.9,575.4 L233.8,576.7 L235.7,577.9 L237.7,578.9 L239.7,579.7 L241.6,580.3 L243.6,580.6 L245.7,580.7 L247.7,580.5 L249.7,580.1 L251.8,579.4 L253.9,578.6 L255.9,577.6 L258.0,576.5 L260.0,575.4 L262.1,574.4 L264.1,573.4 L266.1,572.5 L268.2,571.8 L270.2,571.3 L272.2,571.1 L274.2,571.1 L276.1,571.3 L278.1,571.8 L280.1,572.5 L282.1,573.5 L284.0,574.5 L286.0,575.7 L288.0,576.9 L290.0,578.1 L292.0,579.3 L294.0,580.3 L296.0,581.2 L298.0,581.9 L300.0,582.3 L302.0,582.5 L304.0,582.4 L306.0,582.1 L308.0,581.5 L310.0,580.7 L312.0,579.8 L314.0,578.7 L316.0,577.5 L318.0,576.3 L320.0,575.1 L322.0,574.0 L323.9,573.0 L325.9,572.2 L327.9,571.6 L329.9,571.2 L331.8,571.1 L333.8,571.3 L335.8,571.7 L337.9,572.3 L339.9,573.1 L341.9,574.0 L344.0,575.1 L346.0,576.2 L348.1,577.3 L350.1,578.3 L352.2,579.2 L354.2,580.0 L356.3,580.5 L358.3,580.8 L360.3,580.9 L362.3,580.7 L364.3,580.2 L366.3,579.5 L368.3,578.6 L370.2,577.5 L372.1,576.3 L374.0,575.0 L375.9,573.6 L377.8,572.3 L379.7,571.0 L381.6,569.9 L383.5,568.9 L385.5,568.2 L387.4,567.7 L389.4,567.4 L391.4,567.4 L393.4,567.6 L395.4,568.0 L397.5,568.6 L399.7,569.4 L401.8,570.2 L404.0,571.1 L406.2,571.9 L408.5,572.6 L410.7,573.2 L413.0,573.6 L415.2,573.7 L417.5,573.5 L419.7,572.9 L422.0,571.9 L424.3,570.4 L426.5,568.0 L427.1,565.6 L428.0,564.7 L430.0,563.6 L432.0,562.4 L434.0,561.2" fill="none" stroke="#e98bb0" stroke-width="7" stroke-linecap="round"/><path d="M174.0,563.0 L176.0,561.8 L178.0,560.7 L180.0,559.7 L183.7,559.2 L187.1,560.8 L188.6,561.3 L190.0,561.9 L191.6,562.7 L193.3,563.8 L195.0,565.0 L196.7,566.4 L198.4,567.8 L200.1,569.4 L201.9,571.0 L203.7,572.5 L205.6,573.9 L207.4,575.2 L209.4,576.3 L211.3,577.1 L213.3,577.7 L215.3,578.1 L217.4,578.1 L219.5,577.9 L221.6,577.5 L223.7,576.8 L225.8,576.0 L227.9,575.1 L230.0,574.1 L232.1,573.1 L234.2,572.1 L236.3,571.3 L238.3,570.6 L240.3,570.0 L242.4,569.7 L244.4,569.7 L246.3,569.9 L248.3,570.3 L250.3,571.0 L252.2,571.9 L254.1,572.9 L256.1,574.1 L258.0,575.4 L260.0,576.6 L261.9,577.9 L263.9,579.1 L265.9,580.1 L267.8,580.9 L269.8,581.5 L271.8,581.9 L273.8,582.1 L275.9,581.9 L277.9,581.5 L279.9,580.9 L281.9,580.1 L284.0,579.1 L286.0,578.0 L288.0,576.9 L290.0,575.7 L292.0,574.6 L294.0,573.6 L296.0,572.8 L298.0,572.1 L300.0,571.7 L302.0,571.5 L304.0,571.6 L306.0,571.9 L308.0,572.5 L310.0,573.2 L312.0,574.2 L314.0,575.2 L316.0,576.4 L318.0,577.5 L320.0,578.7 L322.0,579.7 L324.1,580.6 L326.1,581.3 L328.1,581.8 L330.1,582.1 L332.2,582.1 L334.2,581.9 L336.2,581.3 L338.1,580.6 L340.1,579.7 L342.1,578.6 L344.0,577.4 L346.0,576.1 L347.9,574.8 L349.9,573.6 L351.8,572.5 L353.8,571.5 L355.7,570.8 L357.7,570.2 L359.7,569.9 L361.7,569.9 L363.7,570.1 L365.7,570.5 L367.7,571.1 L369.8,572.0 L371.9,572.9 L374.0,573.9 L376.1,574.9 L378.2,575.9 L380.3,576.8 L382.4,577.5 L384.5,578.1 L386.5,578.4 L388.6,578.5 L390.6,578.3 L392.6,577.8 L394.6,577.1 L396.6,576.2 L398.5,575.0 L400.3,573.7 L402.2,572.2 L404.0,570.7 L405.8,569.2 L407.5,567.7 L409.3,566.3 L411.0,565.1 L412.8,564.0 L414.5,563.1 L416.3,562.5 L418.0,562.0 L419.7,561.8 L421.5,561.6 L424.9,560.4 L428.0,561.3 L430.0,562.4 L432.0,563.6 L434.0,564.8" fill="none" stroke="#e98bb0" stroke-width="7" stroke-linecap="round"/></g>
<path d="M183,460 A121,56 0 0 0 425,460" fill="none" stroke="#b52a62" stroke-width="3"/>
<ellipse cx="1262" cy="563" rx="108" ry="18" fill="#8f89ad"/>
<path d="M1150.0,492.0 L1150.0,485.2 L1150.2,478.6 L1150.4,472.1 L1150.7,465.7 L1151.1,459.4 L1151.5,453.3 L1152.1,447.4 L1152.7,441.5 L1153.4,435.8 L1154.1,430.2 L1155.0,424.8 L1155.9,419.4 L1156.9,414.2 L1158.0,409.2 L1159.1,404.2 L1160.3,399.4 L1161.6,394.7 L1162.9,390.1 L1164.3,385.7 L1165.8,381.3 L1167.3,377.1 L1168.9,373.0 L1170.6,369.1 L1172.3,365.2 L1174.0,361.5 L1175.9,357.9 L1177.8,354.4 L1179.7,351.0 L1181.7,347.8 L1183.8,344.6 L1185.9,341.6 L1188.0,338.7 L1190.2,335.9 L1192.5,333.2 L1194.7,330.6 L1197.1,328.1 L1199.5,325.8 L1201.9,323.5 L1204.4,321.4 L1206.9,319.3 L1209.4,317.4 L1212.0,315.6 L1214.7,313.9 L1217.3,312.2 L1220.0,310.7 L1222.8,309.3 L1225.5,308.0 L1228.3,306.8 L1231.2,305.7 L1234.0,304.7 L1236.9,303.8 L1239.8,303.0 L1242.8,302.3 L1245.7,301.7 L1248.7,301.2 L1251.7,300.7 L1254.8,300.4 L1257.8,300.2 L1260.9,300.0 L1264.0,300.0 L1267.1,300.0 L1270.2,300.2 L1273.2,300.4 L1276.3,300.7 L1279.3,301.2 L1282.3,301.7 L1285.2,302.3 L1288.2,303.0 L1291.1,303.8 L1294.0,304.7 L1296.8,305.7 L1299.7,306.8 L1302.5,308.0 L1305.2,309.3 L1308.0,310.7 L1310.7,312.2 L1313.3,313.9 L1316.0,315.6 L1318.6,317.4 L1321.1,319.3 L1323.6,321.4 L1326.1,323.5 L1328.5,325.8 L1330.9,328.1 L1333.3,330.6 L1335.5,333.2 L1337.8,335.9 L1340.0,338.7 L1342.1,341.6 L1344.2,344.6 L1346.3,347.8 L1348.3,351.0 L1350.2,354.4 L1352.1,357.9 L1354.0,361.5 L1355.7,365.2 L1357.4,369.1 L1359.1,373.0 L1360.7,377.1 L1362.2,381.3 L1363.7,385.7 L1365.1,390.1 L1366.4,394.7 L1367.7,399.4 L1368.9,404.2 L1370.0,409.2 L1371.1,414.2 L1372.1,419.4 L1373.0,424.8 L1373.9,430.2 L1374.6,435.8 L1375.3,441.5 L1375.9,447.4 L1376.5,453.3 L1376.9,459.4 L1377.3,465.7 L1377.6,472.1 L1377.8,478.6 L1378.0,485.2 L1378.0,492.0" fill="none" stroke="#3d386b" stroke-width="21"/>
<path d="M1150.0,492.0 L1154.3,485.3 L1155.1,478.7 L1151.9,472.1 L1147.7,465.5 L1145.9,459.1 L1148.0,453.0 L1152.6,447.4 L1156.8,442.0 L1158.4,436.5 L1156.9,430.6 L1153.9,424.6 L1151.6,418.6 L1151.9,413.2 L1154.9,408.5 L1159.4,404.3 L1163.8,400.3 L1166.5,396.1 L1167.1,391.4 L1165.9,386.2 L1164.2,380.8 L1163.3,375.6 L1164.1,371.1 L1166.7,367.4 L1170.7,364.5 L1175.2,362.1 L1179.3,359.7 L1182.2,356.9 L1183.8,353.5 L1184.3,349.4 L1184.2,344.9 L1184.1,340.4 L1184.7,336.1 L1186.2,332.6 L1188.8,330.0 L1192.3,328.3 L1196.3,327.4 L1200.4,326.8 L1204.2,326.1 L1207.5,325.1 L1210.1,323.4 L1212.0,321.0 L1213.6,317.9 L1215.0,314.4 L1216.5,310.8 L1218.3,307.5 L1220.6,305.0 L1223.4,303.3 L1226.6,302.6 L1230.1,302.9 L1233.7,303.8 L1237.3,305.0 L1240.6,306.1 L1243.8,306.8 L1246.7,306.8 L1249.5,305.9 L1252.2,304.2 L1254.9,301.9 L1257.8,299.5 L1260.8,297.2 L1264.0,295.6 L1267.2,294.9 L1270.5,295.3 L1273.6,296.7 L1276.5,298.9 L1279.2,301.5 L1281.8,304.1 L1284.3,306.4 L1286.9,307.9 L1289.7,308.7 L1292.7,308.6 L1296.0,308.0 L1299.6,307.0 L1303.3,306.2 L1306.9,305.9 L1310.3,306.4 L1313.3,307.8 L1315.6,310.2 L1317.5,313.4 L1318.8,317.0 L1319.9,320.8 L1321.2,324.3 L1322.7,327.2 L1325.0,329.4 L1328.0,330.9 L1331.8,332.0 L1335.9,332.9 L1340.1,334.0 L1343.7,335.9 L1346.4,338.6 L1347.9,342.2 L1348.3,346.5 L1347.9,351.3 L1347.5,355.9 L1347.8,360.2 L1349.4,363.7 L1352.5,366.7 L1356.7,369.4 L1361.2,372.2 L1365.0,375.5 L1367.1,379.6 L1367.1,384.5 L1365.6,389.9 L1363.7,395.4 L1362.9,400.6 L1364.3,405.3 L1367.9,409.6 L1372.6,413.9 L1376.5,418.6 L1378.0,423.9 L1376.4,429.8 L1373.2,436.0 L1370.7,442.0 L1371.1,447.8 L1374.7,453.5 L1379.6,459.3 L1382.5,465.4 L1381.4,471.9 L1377.2,478.6 L1373.4,485.3 L1373.4,492.0" fill="none" stroke="#a9a4c6" stroke-width="5.5" stroke-linecap="round"/><path d="M1150.0,492.0 L1145.8,485.2 L1145.3,478.4 L1148.9,472.0 L1153.7,465.8 L1156.2,459.8 L1155.1,453.6 L1151.5,447.3 L1148.5,441.0 L1148.3,435.1 L1151.3,429.8 L1156.1,424.9 L1160.2,420.2 L1161.9,415.2 L1161.1,409.8 L1158.8,404.1 L1156.8,398.5 L1156.6,393.3 L1158.7,388.8 L1162.7,385.1 L1167.4,381.9 L1171.3,378.6 L1173.7,375.0 L1174.4,370.7 L1173.8,365.9 L1172.9,360.9 L1172.5,356.1 L1173.3,351.9 L1175.6,348.6 L1179.1,346.1 L1183.3,344.3 L1187.6,342.8 L1191.3,341.2 L1194.2,339.1 L1196.1,336.3 L1197.2,332.9 L1197.9,328.9 L1198.5,324.8 L1199.6,320.9 L1201.3,317.6 L1203.7,315.3 L1206.8,313.8 L1210.5,313.3 L1214.4,313.4 L1218.2,313.7 L1221.8,313.9 L1224.9,313.7 L1227.7,312.7 L1230.1,311.0 L1232.2,308.5 L1234.3,305.6 L1236.6,302.6 L1239.0,299.8 L1241.8,297.7 L1244.8,296.6 L1248.0,296.4 L1251.3,297.3 L1254.6,298.9 L1257.9,300.9 L1261.0,302.9 L1264.0,304.4 L1266.9,305.2 L1269.9,305.1 L1272.9,304.1 L1276.0,302.6 L1279.3,300.8 L1282.7,299.2 L1286.1,298.2 L1289.4,298.1 L1292.5,298.9 L1295.3,300.8 L1297.7,303.5 L1299.8,306.6 L1301.6,309.8 L1303.5,312.8 L1305.6,315.1 L1308.1,316.7 L1311.0,317.5 L1314.5,317.8 L1318.3,317.8 L1322.3,317.8 L1326.1,318.4 L1329.4,319.8 L1332.0,322.1 L1333.8,325.3 L1334.8,329.2 L1335.2,333.5 L1335.5,337.7 L1336.3,341.5 L1337.9,344.6 L1340.6,347.1 L1344.3,349.0 L1348.7,350.8 L1353.0,352.9 L1356.4,355.6 L1358.5,359.3 L1359.0,363.7 L1358.2,368.7 L1357.0,373.9 L1356.4,378.7 L1357.4,383.0 L1360.2,386.8 L1364.6,390.3 L1369.1,393.9 L1372.5,398.1 L1373.6,403.1 L1372.2,408.7 L1369.6,414.5 L1367.6,420.2 L1368.1,425.6 L1371.3,430.6 L1376.1,435.6 L1379.9,441.0 L1380.8,446.9 L1378.2,453.2 L1374.3,459.6 L1372.2,466.0 L1373.9,472.2 L1378.5,478.6 L1382.5,485.2 L1382.6,492.0" fill="none" stroke="#a9a4c6" stroke-width="5.5" stroke-linecap="round"/>
<ellipse cx="1264" cy="460" rx="119" ry="60" fill="#3a3566"/>
<path d="M1145,460 A119,60 0 0 1 1383,460" fill="none" stroke="#8e88b4" stroke-width="5"/>
<path d="M1262,350 C1285,332 1342,330 1364,352 C1372,380 1380,430 1376,470 H1258 Z" fill="#8c86b3"/><ellipse cx="1310" cy="340" rx="24" ry="11" fill="#5f5892"/><path d="M1290,338 C1300,352 1322,352 1332,338" fill="none" stroke="#a6a0c8" stroke-width="3"/>
<rect x="1321" y="362" width="16" height="60" fill="#6b5fa0"/><path d="M1321,415 C1318,440 1298,455 1298,480 L1300,515 H1370 L1368,480 C1366,455 1340,440 1337,415 Z" fill="#6a5e9f"/><rect x="1310" y="465" width="40" height="30" fill="#a9a3cc" opacity="0.8"/>
<rect x="1178" y="315" width="90" height="57" rx="5" fill="#5a77b1"/><rect x="1180" y="343" width="86" height="16" fill="#dfe2ee" opacity="0.55"/><text x="1184" y="361" font-size="25" font-weight="bold" fill="#f4f5fa" style="font-family:Liberation Serif,serif" textLength="72" lengthAdjust="spacingAndGlyphs">SUBE</text><g fill="#c8d0e8"><circle cx="1240" cy="337" r="2.6"/><circle cx="1248" cy="337" r="2.6"/><circle cx="1256" cy="337" r="2.6"/></g>
<path d="M1153,378 L1240,366 L1242,474 L1155,478 Z" fill="#5c9eab"/><path d="M1153,372 L1240,360 L1243,372 L1156,384 Z" fill="#e6eaee"/><path d="M1151,370 L1240,357 L1240,362 L1153,374 Z" fill="#4a8d9a"/><path d="M1162,362 L1178,359 L1180,380 L1171,374 L1164,381 Z" fill="#e07b3f"/><path d="M1190,420 C1200,460 1225,470 1242,474 L1242,430 Z" fill="#6fb0bb" opacity="0.5"/>
<rect x="1236" y="365" width="22" height="13" rx="2" fill="#3e548a"/><path d="M1228,392 C1228,378 1268,376 1270,392 L1271,476 H1226 Z" fill="#5d75aa"/><rect x="1226" y="420" width="45" height="11" fill="#2f3e68"/><path d="M1226,420 L1233,412 L1240,417 L1248,406 L1256,416 L1263,410 L1271,420 Z" fill="#ffffff"/>
<rect x="1268" y="381" width="28" height="20" rx="2" fill="#5b72b0"/><rect x="1258" y="398" width="50" height="78" rx="11" fill="#aab8dd"/><rect x="1258" y="422" width="50" height="48" fill="#7488c5"/><rect x="1276" y="428" width="13" height="36" fill="#dfe5f5"/><rect x="1265" y="439" width="35" height="13" fill="#dfe5f5"/>
<g transform="rotate(-10 1163 441)"><rect x="1141" y="398" width="45" height="86" rx="6" fill="#53488a"/><rect x="1146" y="405" width="35" height="70" fill="#978fc2"/><path d="M1146,405 L1181,405 L1146,460 Z" fill="#a8a1cf" opacity="0.6"/></g>
<circle cx="1338.6" cy="409.8" r="18" fill="none" stroke="#f3eff6" stroke-width="4"/><g fill="#c98a5a"><circle cx="1362" cy="402" r="21"/><path d="M1368,412 L1410,455 L1400,466 L1392,460 L1388,464 L1380,456 L1384,452 L1356,424 Z"/></g><circle cx="1352" cy="394" r="5" fill="#faf8f1"/>
<path d="M1225,468 C1234,468 1236,482 1240,490 C1249,500 1252,510 1249,518 H1203 C1200,510 1204,500 1212,490 C1216,482 1216,468 1225,468 Z" fill="#9bc1cd"/><ellipse cx="1240" cy="458" rx="10" ry="4.5" transform="rotate(-40 1240 458)" fill="#54787e"/>
<polygon points="1160,478 1186,455 1246,470 1232,514" fill="#f2dea5"/><polygon points="1246,470 1252,474 1238,517 1232,514" fill="#d4b676"/><g fill="#d4a860"><ellipse cx="1180" cy="478" rx="4" ry="3.5"/><ellipse cx="1203" cy="490" rx="6" ry="5"/><ellipse cx="1222" cy="470" rx="4" ry="3"/><ellipse cx="1215" cy="505" rx="5" ry="4"/></g>
<g transform="rotate(-32 1330 482)"><ellipse cx="1330" cy="482" rx="58" ry="24" fill="#d19a62"/><ellipse cx="1318" cy="476" rx="18" ry="7" fill="#e8c497"/><ellipse cx="1350" cy="472" rx="15" ry="6" fill="#e8c497"/></g>
<path d="M1143,460 A121,56 0 0 0 1385,460 C1385,530 1340,588 1264,588 C1188,588 1143,530 1143,460 Z" fill="#474079"/>
<g clip-path="url(#clipRb)"><path d="M1134.0,452.0 L1136.0,453.2 L1138.0,454.3 L1140.0,455.3 L1138.3,454.0 L1138.8,460.9 L1142.2,466.1 L1146.1,469.1 L1149.8,470.9 L1153.2,472.1 L1156.2,473.1 L1158.9,474.1 L1161.3,475.1 L1163.4,476.3 L1165.2,477.7 L1166.8,479.4 L1168.3,481.3 L1169.6,483.4 L1171.0,485.6 L1172.3,487.8 L1173.7,490.1 L1175.1,492.2 L1176.7,494.3 L1178.3,496.1 L1180.1,497.7 L1182.0,499.0 L1184.0,499.9 L1186.1,500.6 L1188.3,501.0 L1190.6,501.1 L1192.9,500.9 L1195.3,500.5 L1197.7,500.0 L1200.0,499.4 L1202.3,498.8 L1204.6,498.2 L1206.9,497.8 L1209.0,497.4 L1211.1,497.3 L1213.2,497.3 L1215.1,497.6 L1217.1,498.2 L1218.9,498.9 L1220.8,499.9 L1222.6,501.1 L1224.4,502.4 L1226.2,503.9 L1228.0,505.3 L1229.9,506.8 L1231.7,508.2 L1233.6,509.5 L1235.5,510.6 L1237.5,511.5 L1239.5,512.1 L1241.5,512.5 L1243.6,512.7 L1245.6,512.5 L1247.7,512.1 L1249.8,511.4 L1251.9,510.6 L1253.9,509.6 L1256.0,508.5 L1258.0,507.4 L1260.0,506.3 L1262.0,505.2 L1264.0,504.3 L1266.0,503.5 L1267.9,502.9 L1269.9,502.5 L1271.8,502.4 L1273.8,502.5 L1275.8,502.8 L1277.8,503.4 L1279.8,504.1 L1281.8,505.0 L1283.9,506.0 L1286.0,507.0 L1288.1,508.0 L1290.2,509.0 L1292.4,509.8 L1294.5,510.4 L1296.6,510.8 L1298.7,511.0 L1300.8,510.9 L1302.8,510.5 L1304.8,509.9 L1306.8,509.0 L1308.7,507.8 L1310.5,506.5 L1312.3,505.0 L1314.1,503.4 L1315.8,501.8 L1317.6,500.2 L1319.3,498.7 L1321.0,497.3 L1322.8,496.1 L1324.6,495.0 L1326.5,494.3 L1328.4,493.7 L1330.5,493.4 L1332.6,493.3 L1334.8,493.5 L1337.1,493.7 L1339.4,494.1 L1341.9,494.5 L1344.4,494.9 L1346.9,495.2 L1349.3,495.3 L1351.8,495.2 L1354.2,494.9 L1356.5,494.2 L1358.6,493.2 L1360.6,491.8 L1362.4,490.1 L1364.1,488.1 L1365.5,485.8 L1366.8,483.2 L1367.9,480.5 L1369.0,477.8 L1369.9,475.0 L1371.0,472.3 L1372.1,469.8 L1373.6,467.4 L1375.6,465.2 L1378.5,462.8 L1383.1,458.9 L1388.8,453.6 L1388.0,456.1 L1390.0,456.8 L1392.0,457.3 L1394.0,457.5" fill="none" stroke="#aaa5c8" stroke-width="7" stroke-linecap="round"/><path d="M1134.0,452.0 L1136.0,450.8 L1138.0,449.7 L1140.0,448.7 L1145.7,450.0 L1149.2,457.5 L1149.8,462.7 L1149.9,466.7 L1150.2,470.6 L1150.8,474.2 L1151.8,477.5 L1153.1,480.5 L1154.7,482.9 L1156.6,484.9 L1158.8,486.5 L1161.2,487.6 L1163.7,488.4 L1166.4,488.8 L1169.0,489.0 L1171.7,488.9 L1174.3,488.8 L1176.9,488.6 L1179.3,488.5 L1181.7,488.5 L1183.9,488.7 L1186.0,489.1 L1188.0,489.7 L1189.9,490.5 L1191.7,491.6 L1193.4,493.0 L1195.1,494.5 L1196.7,496.1 L1198.3,497.8 L1200.0,499.6 L1201.7,501.4 L1203.4,503.0 L1205.1,504.5 L1207.0,505.9 L1208.9,507.0 L1210.8,507.8 L1212.9,508.4 L1214.9,508.7 L1217.1,508.7 L1219.2,508.4 L1221.4,507.9 L1223.6,507.3 L1225.8,506.5 L1228.0,505.6 L1230.1,504.7 L1232.3,503.8 L1234.4,503.0 L1236.5,502.4 L1238.5,501.9 L1240.5,501.6 L1242.5,501.6 L1244.4,501.8 L1246.4,502.3 L1248.3,502.9 L1250.2,503.8 L1252.1,504.8 L1254.1,506.0 L1256.0,507.2 L1258.0,508.5 L1260.0,509.7 L1262.0,510.8 L1264.0,511.7 L1266.0,512.5 L1268.1,513.1 L1270.1,513.3 L1272.2,513.4 L1274.2,513.1 L1276.2,512.6 L1278.2,511.8 L1280.2,510.9 L1282.2,509.7 L1284.1,508.4 L1286.0,507.1 L1287.9,505.7 L1289.8,504.4 L1291.6,503.2 L1293.5,502.1 L1295.4,501.2 L1297.3,500.5 L1299.2,500.0 L1301.2,499.8 L1303.2,499.8 L1305.2,500.1 L1307.3,500.5 L1309.5,501.1 L1311.7,501.8 L1313.9,502.6 L1316.2,503.3 L1318.4,504.0 L1320.7,504.6 L1323.0,505.0 L1325.2,505.2 L1327.4,505.1 L1329.5,504.8 L1331.6,504.2 L1333.5,503.2 L1335.4,502.0 L1337.2,500.6 L1338.9,498.9 L1340.6,497.1 L1342.1,495.1 L1343.6,493.1 L1345.1,491.2 L1346.7,489.3 L1348.2,487.5 L1349.8,486.0 L1351.5,484.6 L1353.4,483.5 L1355.4,482.7 L1357.6,482.0 L1359.9,481.6 L1362.5,481.3 L1365.2,481.0 L1368.1,480.7 L1371.0,480.2 L1374.1,479.5 L1377.0,478.3 L1379.9,476.6 L1382.4,474.1 L1384.4,470.7 L1385.5,466.0 L1384.9,459.5 L1383.2,450.4 L1388.0,447.9 L1390.0,447.2 L1392.0,446.7 L1394.0,446.5" fill="none" stroke="#aaa5c8" stroke-width="7" stroke-linecap="round"/><path d="M1134.0,489.0 L1136.0,490.2 L1138.0,491.3 L1140.0,492.3 L1138.6,491.5 L1139.0,496.6 L1141.7,500.9 L1144.9,503.5 L1148.1,505.0 L1151.3,505.8 L1154.2,506.2 L1157.0,506.4 L1159.7,506.6 L1162.1,506.9 L1164.3,507.3 L1166.4,507.9 L1168.4,508.7 L1170.2,509.7 L1171.9,511.0 L1173.6,512.5 L1175.1,514.1 L1176.7,515.9 L1178.3,517.8 L1179.9,519.6 L1181.5,521.5 L1183.2,523.2 L1184.9,524.7 L1186.8,526.1 L1188.7,527.2 L1190.6,528.0 L1192.7,528.6 L1194.8,528.8 L1197.0,528.8 L1199.2,528.6 L1201.4,528.1 L1203.6,527.5 L1205.8,526.7 L1208.1,525.9 L1210.3,525.1 L1212.4,524.3 L1214.6,523.6 L1216.7,523.1 L1218.7,522.8 L1220.7,522.8 L1222.7,522.9 L1224.6,523.3 L1226.6,524.0 L1228.5,524.9 L1230.3,525.9 L1232.2,527.1 L1234.1,528.4 L1236.0,529.8 L1237.9,531.1 L1239.8,532.4 L1241.8,533.6 L1243.8,534.6 L1245.7,535.3 L1247.8,535.9 L1249.8,536.2 L1251.8,536.2 L1253.9,536.0 L1255.9,535.5 L1257.9,534.8 L1260.0,533.9 L1262.0,532.8 L1264.0,531.7 L1266.0,530.5 L1268.0,529.3 L1270.0,528.2 L1271.9,527.2 L1273.9,526.3 L1275.8,525.7 L1277.8,525.3 L1279.7,525.1 L1281.7,525.2 L1283.7,525.5 L1285.7,526.1 L1287.8,526.8 L1289.8,527.7 L1291.9,528.6 L1294.0,529.6 L1296.1,530.6 L1298.2,531.6 L1300.4,532.4 L1302.5,533.0 L1304.6,533.5 L1306.7,533.6 L1308.7,533.6 L1310.8,533.2 L1312.8,532.6 L1314.7,531.7 L1316.6,530.6 L1318.5,529.3 L1320.3,527.9 L1322.1,526.3 L1323.9,524.8 L1325.6,523.2 L1327.4,521.7 L1329.1,520.4 L1330.9,519.2 L1332.8,518.2 L1334.6,517.5 L1336.6,517.0 L1338.6,516.7 L1340.7,516.7 L1342.9,516.8 L1345.1,517.2 L1347.4,517.6 L1349.8,518.1 L1352.3,518.5 L1354.7,518.9 L1357.2,519.2 L1359.6,519.2 L1362.0,519.0 L1364.3,518.4 L1366.5,517.5 L1368.6,516.3 L1370.5,514.7 L1372.2,512.7 L1373.7,510.4 L1375.0,507.8 L1376.1,505.0 L1377.0,502.1 L1377.7,499.0 L1378.2,496.0 L1379.0,492.2 L1382.0,486.1 L1388.0,484.7 L1390.0,485.6 L1392.0,486.6 L1394.0,487.7" fill="none" stroke="#aaa5c8" stroke-width="7" stroke-linecap="round"/><path d="M1134.0,489.0 L1136.0,487.8 L1138.0,486.7 L1140.0,485.7 L1145.4,486.5 L1149.0,492.2 L1150.3,495.7 L1151.1,498.4 L1151.9,501.2 L1152.7,504.0 L1153.8,506.8 L1155.0,509.4 L1156.3,511.9 L1157.9,514.0 L1159.7,515.9 L1161.6,517.4 L1163.6,518.6 L1165.8,519.4 L1168.1,519.9 L1170.4,520.1 L1172.9,520.0 L1175.3,519.7 L1177.7,519.3 L1180.1,518.8 L1182.5,518.3 L1184.8,517.8 L1187.1,517.5 L1189.2,517.3 L1191.3,517.3 L1193.4,517.5 L1195.3,517.9 L1197.2,518.6 L1199.0,519.6 L1200.8,520.7 L1202.6,522.0 L1204.4,523.5 L1206.2,525.0 L1207.9,526.6 L1209.7,528.1 L1211.6,529.5 L1213.4,530.8 L1215.3,532.0 L1217.3,532.8 L1219.3,533.5 L1221.3,533.8 L1223.4,533.9 L1225.4,533.8 L1227.5,533.3 L1229.7,532.7 L1231.8,531.9 L1233.9,531.0 L1236.0,530.0 L1238.1,528.9 L1240.2,527.9 L1242.2,527.0 L1244.2,526.3 L1246.3,525.7 L1248.2,525.4 L1250.2,525.2 L1252.2,525.4 L1254.1,525.7 L1256.1,526.3 L1258.1,527.1 L1260.0,528.1 L1262.0,529.2 L1264.0,530.3 L1266.0,531.5 L1268.0,532.7 L1270.0,533.7 L1272.1,534.6 L1274.1,535.4 L1276.2,535.9 L1278.2,536.1 L1280.3,536.1 L1282.3,535.8 L1284.3,535.3 L1286.3,534.5 L1288.2,533.5 L1290.2,532.4 L1292.1,531.1 L1294.0,529.7 L1295.9,528.4 L1297.8,527.0 L1299.6,525.8 L1301.5,524.7 L1303.4,523.8 L1305.3,523.1 L1307.3,522.7 L1309.2,522.5 L1311.2,522.5 L1313.3,522.8 L1315.4,523.2 L1317.5,523.9 L1319.7,524.6 L1321.9,525.4 L1324.1,526.2 L1326.4,526.9 L1328.6,527.6 L1330.9,528.0 L1333.1,528.3 L1335.2,528.3 L1337.4,528.1 L1339.4,527.5 L1341.4,526.7 L1343.3,525.6 L1345.1,524.2 L1346.9,522.6 L1348.6,520.9 L1350.2,519.0 L1351.7,517.1 L1353.3,515.2 L1354.8,513.4 L1356.4,511.7 L1358.0,510.2 L1359.7,508.8 L1361.5,507.7 L1363.4,506.9 L1365.5,506.3 L1367.8,505.8 L1370.3,505.5 L1373.0,505.2 L1375.9,504.7 L1379.0,504.1 L1382.3,502.9 L1385.8,500.6 L1389.0,496.5 L1390.0,491.9 L1388.0,493.3 L1390.0,492.4 L1392.0,491.4 L1394.0,490.3" fill="none" stroke="#aaa5c8" stroke-width="7" stroke-linecap="round"/><path d="M1134.0,526.0 L1136.0,527.2 L1138.0,528.3 L1140.0,529.3 L1139.2,529.1 L1139.5,532.5 L1142.0,535.9 L1144.8,537.9 L1147.6,539.0 L1150.3,539.5 L1153.0,539.7 L1155.6,539.5 L1158.1,539.2 L1160.6,538.8 L1162.9,538.5 L1165.2,538.2 L1167.4,538.1 L1169.5,538.1 L1171.5,538.4 L1173.4,538.9 L1175.3,539.6 L1177.1,540.6 L1178.9,541.8 L1180.7,543.2 L1182.4,544.6 L1184.2,546.2 L1185.9,547.8 L1187.7,549.3 L1189.5,550.8 L1191.4,552.1 L1193.3,553.3 L1195.2,554.2 L1197.2,554.8 L1199.2,555.2 L1201.3,555.3 L1203.4,555.2 L1205.5,554.8 L1207.6,554.2 L1209.7,553.4 L1211.9,552.5 L1214.0,551.5 L1216.1,550.5 L1218.2,549.6 L1220.3,548.8 L1222.4,548.1 L1224.4,547.6 L1226.4,547.3 L1228.4,547.3 L1230.4,547.5 L1232.3,547.9 L1234.3,548.6 L1236.2,549.5 L1238.1,550.5 L1240.1,551.7 L1242.0,553.0 L1244.0,554.2 L1245.9,555.5 L1247.9,556.6 L1249.9,557.6 L1251.9,558.4 L1253.9,559.0 L1255.9,559.4 L1257.9,559.5 L1260.0,559.3 L1262.0,558.8 L1264.0,558.2 L1266.0,557.3 L1268.0,556.3 L1270.0,555.1 L1272.0,553.9 L1274.0,552.7 L1275.9,551.5 L1277.9,550.5 L1279.9,549.5 L1281.8,548.8 L1283.8,548.3 L1285.8,548.0 L1287.7,548.0 L1289.7,548.3 L1291.8,548.7 L1293.8,549.4 L1295.8,550.2 L1297.9,551.2 L1300.0,552.2 L1302.0,553.2 L1304.1,554.2 L1306.2,555.1 L1308.3,555.9 L1310.4,556.5 L1312.5,556.8 L1314.6,556.9 L1316.6,556.7 L1318.6,556.3 L1320.6,555.6 L1322.5,554.7 L1324.4,553.5 L1326.3,552.2 L1328.1,550.8 L1330.0,549.3 L1331.8,547.8 L1333.6,546.4 L1335.4,545.1 L1337.2,543.9 L1339.1,542.9 L1341.0,542.1 L1342.9,541.6 L1344.9,541.3 L1346.9,541.3 L1349.0,541.5 L1351.2,541.8 L1353.4,542.3 L1355.7,542.9 L1358.0,543.6 L1360.3,544.2 L1362.7,544.7 L1365.1,545.0 L1367.5,545.1 L1369.8,544.9 L1372.1,544.5 L1374.3,543.6 L1376.4,542.4 L1378.4,540.8 L1380.2,538.7 L1381.8,536.2 L1383.0,533.1 L1383.5,529.3 L1384.1,523.8 L1388.0,522.2 L1390.0,521.4 L1392.0,520.9 L1394.0,520.6" fill="none" stroke="#aaa5c8" stroke-width="7" stroke-linecap="round"/><path d="M1134.0,526.0 L1136.0,524.8 L1138.0,523.7 L1140.0,522.7 L1144.8,522.9 L1148.5,526.7 L1150.0,528.5 L1151.2,530.0 L1152.4,531.7 L1153.7,533.6 L1155.0,535.7 L1156.4,537.7 L1157.9,539.8 L1159.4,541.8 L1161.1,543.6 L1162.8,545.3 L1164.6,546.8 L1166.5,548.0 L1168.5,548.9 L1170.6,549.5 L1172.7,549.8 L1174.9,549.8 L1177.1,549.6 L1179.3,549.1 L1181.6,548.5 L1183.8,547.8 L1186.1,547.0 L1188.3,546.2 L1190.5,545.5 L1192.6,544.9 L1194.7,544.4 L1196.8,544.2 L1198.8,544.1 L1200.8,544.3 L1202.7,544.8 L1204.6,545.5 L1206.5,546.4 L1208.4,547.5 L1210.3,548.7 L1212.1,550.1 L1214.0,551.5 L1215.9,552.9 L1217.8,554.2 L1219.7,555.4 L1221.6,556.4 L1223.6,557.3 L1225.6,557.9 L1227.6,558.2 L1229.6,558.3 L1231.7,558.1 L1233.7,557.7 L1235.8,557.0 L1237.9,556.2 L1239.9,555.2 L1242.0,554.1 L1244.0,553.0 L1246.1,551.9 L1248.1,550.9 L1250.1,550.0 L1252.1,549.3 L1254.1,548.8 L1256.1,548.5 L1258.1,548.5 L1260.0,548.7 L1262.0,549.2 L1264.0,549.8 L1266.0,550.7 L1268.0,551.7 L1270.0,552.8 L1272.0,554.0 L1274.0,555.1 L1276.1,556.2 L1278.1,557.2 L1280.1,558.0 L1282.2,558.6 L1284.2,558.9 L1286.2,559.0 L1288.3,558.9 L1290.3,558.4 L1292.2,557.8 L1294.2,556.9 L1296.2,555.8 L1298.1,554.6 L1300.0,553.3 L1302.0,551.9 L1303.9,550.6 L1305.8,549.4 L1307.7,548.3 L1309.6,547.3 L1311.5,546.6 L1313.4,546.1 L1315.4,545.8 L1317.4,545.8 L1319.4,546.0 L1321.5,546.5 L1323.6,547.1 L1325.7,547.9 L1327.9,548.7 L1330.0,549.6 L1332.2,550.5 L1334.4,551.3 L1336.6,551.9 L1338.8,552.4 L1340.9,552.7 L1343.0,552.7 L1345.1,552.4 L1347.1,551.8 L1349.1,551.0 L1351.0,549.9 L1352.8,548.6 L1354.6,547.1 L1356.3,545.4 L1358.0,543.7 L1359.7,541.9 L1361.3,540.2 L1362.9,538.5 L1364.5,537.0 L1366.2,535.7 L1367.9,534.5 L1369.7,533.6 L1371.6,532.9 L1373.6,532.4 L1375.8,532.1 L1378.2,531.8 L1381.0,531.3 L1384.5,529.9 L1387.9,528.2 L1388.0,529.8 L1390.0,530.6 L1392.0,531.1 L1394.0,531.4" fill="none" stroke="#aaa5c8" stroke-width="7" stroke-linecap="round"/><path d="M1134.0,563.0 L1136.0,564.2 L1138.0,565.3 L1140.0,566.3 L1140.3,566.8 L1140.9,568.8 L1143.4,570.9 L1146.0,572.1 L1148.4,572.7 L1150.7,572.8 L1153.0,572.7 L1155.3,572.3 L1157.6,571.7 L1159.9,570.9 L1162.1,570.1 L1164.3,569.3 L1166.4,568.5 L1168.6,567.9 L1170.6,567.4 L1172.7,567.1 L1174.7,567.0 L1176.7,567.2 L1178.6,567.6 L1180.5,568.2 L1182.4,569.1 L1184.3,570.2 L1186.2,571.4 L1188.1,572.7 L1190.0,574.1 L1191.9,575.4 L1193.8,576.7 L1195.7,577.9 L1197.7,578.9 L1199.7,579.7 L1201.6,580.3 L1203.6,580.6 L1205.7,580.7 L1207.7,580.5 L1209.7,580.1 L1211.8,579.4 L1213.9,578.6 L1215.9,577.6 L1218.0,576.5 L1220.0,575.4 L1222.1,574.4 L1224.1,573.4 L1226.1,572.5 L1228.2,571.8 L1230.2,571.3 L1232.2,571.1 L1234.2,571.1 L1236.1,571.3 L1238.1,571.8 L1240.1,572.5 L1242.1,573.5 L1244.0,574.5 L1246.0,575.7 L1248.0,576.9 L1250.0,578.1 L1252.0,579.3 L1254.0,580.3 L1256.0,581.2 L1258.0,581.9 L1260.0,582.3 L1262.0,582.5 L1264.0,582.4 L1266.0,582.1 L1268.0,581.5 L1270.0,580.7 L1272.0,579.8 L1274.0,578.7 L1276.0,577.5 L1278.0,576.3 L1280.0,575.1 L1282.0,574.0 L1283.9,573.0 L1285.9,572.2 L1287.9,571.6 L1289.9,571.2 L1291.8,571.1 L1293.8,571.3 L1295.8,571.7 L1297.9,572.3 L1299.9,573.1 L1301.9,574.0 L1304.0,575.1 L1306.0,576.2 L1308.1,577.3 L1310.1,578.3 L1312.2,579.2 L1314.2,580.0 L1316.3,580.5 L1318.3,580.8 L1320.3,580.9 L1322.3,580.7 L1324.3,580.2 L1326.3,579.5 L1328.3,578.6 L1330.2,577.5 L1332.1,576.3 L1334.0,575.0 L1335.9,573.6 L1337.8,572.3 L1339.7,571.0 L1341.6,569.9 L1343.5,568.9 L1345.5,568.2 L1347.4,567.7 L1349.4,567.4 L1351.4,567.4 L1353.4,567.6 L1355.4,568.0 L1357.5,568.6 L1359.7,569.4 L1361.8,570.2 L1364.0,571.1 L1366.2,571.9 L1368.5,572.6 L1370.7,573.2 L1373.0,573.6 L1375.2,573.7 L1377.5,573.5 L1379.7,572.9 L1382.0,571.9 L1384.3,570.4 L1386.5,568.0 L1387.1,565.6 L1388.0,564.7 L1390.0,563.6 L1392.0,562.4 L1394.0,561.2" fill="none" stroke="#aaa5c8" stroke-width="7" stroke-linecap="round"/><path d="M1134.0,563.0 L1136.0,561.8 L1138.0,560.7 L1140.0,559.7 L1143.7,559.2 L1147.1,560.8 L1148.6,561.3 L1150.0,561.9 L1151.6,562.7 L1153.3,563.8 L1155.0,565.0 L1156.7,566.4 L1158.4,567.8 L1160.1,569.4 L1161.9,571.0 L1163.7,572.5 L1165.6,573.9 L1167.4,575.2 L1169.4,576.3 L1171.3,577.1 L1173.3,577.7 L1175.3,578.1 L1177.4,578.1 L1179.5,577.9 L1181.6,577.5 L1183.7,576.8 L1185.8,576.0 L1187.9,575.1 L1190.0,574.1 L1192.1,573.1 L1194.2,572.1 L1196.3,571.3 L1198.3,570.6 L1200.3,570.0 L1202.4,569.7 L1204.4,569.7 L1206.3,569.9 L1208.3,570.3 L1210.3,571.0 L1212.2,571.9 L1214.1,572.9 L1216.1,574.1 L1218.0,575.4 L1220.0,576.6 L1221.9,577.9 L1223.9,579.1 L1225.9,580.1 L1227.8,580.9 L1229.8,581.5 L1231.8,581.9 L1233.8,582.1 L1235.9,581.9 L1237.9,581.5 L1239.9,580.9 L1241.9,580.1 L1244.0,579.1 L1246.0,578.0 L1248.0,576.9 L1250.0,575.7 L1252.0,574.6 L1254.0,573.6 L1256.0,572.8 L1258.0,572.1 L1260.0,571.7 L1262.0,571.5 L1264.0,571.6 L1266.0,571.9 L1268.0,572.5 L1270.0,573.2 L1272.0,574.2 L1274.0,575.2 L1276.0,576.4 L1278.0,577.5 L1280.0,578.7 L1282.0,579.7 L1284.1,580.6 L1286.1,581.3 L1288.1,581.8 L1290.1,582.1 L1292.2,582.1 L1294.2,581.9 L1296.2,581.3 L1298.1,580.6 L1300.1,579.7 L1302.1,578.6 L1304.0,577.4 L1306.0,576.1 L1307.9,574.8 L1309.9,573.6 L1311.8,572.5 L1313.8,571.5 L1315.7,570.8 L1317.7,570.2 L1319.7,569.9 L1321.7,569.9 L1323.7,570.1 L1325.7,570.5 L1327.7,571.1 L1329.8,572.0 L1331.9,572.9 L1334.0,573.9 L1336.1,574.9 L1338.2,575.9 L1340.3,576.8 L1342.4,577.5 L1344.5,578.1 L1346.5,578.4 L1348.6,578.5 L1350.6,578.3 L1352.6,577.8 L1354.6,577.1 L1356.6,576.2 L1358.5,575.0 L1360.3,573.7 L1362.2,572.2 L1364.0,570.7 L1365.8,569.2 L1367.5,567.7 L1369.3,566.3 L1371.0,565.1 L1372.8,564.0 L1374.5,563.1 L1376.3,562.5 L1378.0,562.0 L1379.7,561.8 L1381.5,561.6 L1384.9,560.4 L1388.0,561.3 L1390.0,562.4 L1392.0,563.6 L1394.0,564.8" fill="none" stroke="#aaa5c8" stroke-width="7" stroke-linecap="round"/></g>
<path d="M1143,460 A121,56 0 0 0 1385,460" fill="none" stroke="#3d386b" stroke-width="3"/>
<circle cx="531.8" cy="392" r="53.5" fill="#e9a3b9" stroke="#ffffff" stroke-opacity="0.6" stroke-width="1.2"/>
<text x="531.8" y="400.6" font-size="27" fill="#ffffff" font-weight="bold" text-anchor="middle" >+10,9%</text>
<circle cx="680.75" cy="483" r="53.6" fill="#e085a5" stroke="#ffffff" stroke-opacity="0.6" stroke-width="1.2"/>
<text x="680.75" y="491.5" font-size="27" fill="#ffffff" font-weight="bold" text-anchor="middle" >+48,8%</text>
<circle cx="529" cy="601" r="61.6" fill="#dc6a93" stroke="#ffffff" stroke-opacity="0.6" stroke-width="1.2"/>
<text x="529" y="608" font-size="27" fill="#ffffff" font-weight="bold" text-anchor="middle" >+308,2%</text>
<circle cx="1036.6" cy="391.6" r="53.4" fill="#b8b3c9" stroke="#ffffff" stroke-opacity="0.6" stroke-width="1.2"/>
<text x="1036.6" y="398.7" font-size="27" fill="#ffffff" font-weight="bold" text-anchor="middle" >+11,9%</text>
<circle cx="884.8" cy="482.7" r="53.3" fill="#aaa3c1" stroke="#ffffff" stroke-opacity="0.6" stroke-width="1.2"/>
<text x="884.8" y="491.2" font-size="27" fill="#ffffff" font-weight="bold" text-anchor="middle" >+56,0%</text>
<circle cx="1042" cy="602" r="62" fill="#9189ae" stroke="#ffffff" stroke-opacity="0.6" stroke-width="1.2"/>
<text x="1042" y="608" font-size="27" fill="#ffffff" font-weight="bold" text-anchor="middle" >+304,4%</text>
<path d="M444,292.25 H619.4 V306.5 A27,27 0 0 1 592.4,333.5 H539.9 L531.9,342.5 L523.9,333.5 H471 A27,27 0 0 1 444,306.5 Z" fill="#9aa5c8" stroke="#ffffff" stroke-opacity="0.7" stroke-width="1.5"/>
<path d="M444,292.25 V258.75 H592.4 A27,27 0 0 1 619.4,285.75 V292.25 Z" fill="#6b80b3" stroke="#ffffff" stroke-opacity="0.7" stroke-width="1.5"/>
<path d="M444,292.25 V258.75 H592.4 A27,27 0 0 1 619.4,285.75 V292.25 Z" fill="#6b80b3"/>
<text x="531.7" y="282.75" font-size="14.5" fill="#ffffff" font-weight="bold" text-anchor="middle" >Variación %</text>
<text x="531.7" y="306.9" font-size="13.6" fill="#ffffff" font-weight="normal" text-anchor="middle" >con respecto al</text>
<text x="531.7" y="322.5" font-size="13.6" fill="#ffffff" font-weight="normal" text-anchor="middle" >mes anterior</text>
<path d="M611,383 H751 V397 A27,27 0 0 1 724,424 H688.5 L680.5,433 L672.5,424 H638 A27,27 0 0 1 611,397 Z" fill="#7b88ab" stroke="#ffffff" stroke-opacity="0.7" stroke-width="1.5"/>
<path d="M611,383 V350 H724 A27,27 0 0 1 751,377 V383 Z" fill="#55689a" stroke="#ffffff" stroke-opacity="0.7" stroke-width="1.5"/>
<path d="M611,383 V350 H724 A27,27 0 0 1 751,377 V383 Z" fill="#55689a"/>
<text x="681.0" y="373.5" font-size="14.5" fill="#ffffff" font-weight="bold" text-anchor="middle" >Variación %</text>
<text x="681.0" y="405.5" font-size="13.6" fill="#ffffff" font-weight="normal" text-anchor="middle" >acumulada del año</text>
<path d="M441.5,493.75 H615 V508 A27,27 0 0 1 588,535 H536.75 L528.75,543 L520.75,535 H468.5 A27,27 0 0 1 441.5,508 Z" fill="#6f7a98" stroke="#ffffff" stroke-opacity="0.7" stroke-width="1.5"/>
<path d="M441.5,493.75 V461 H588 A27,27 0 0 1 615,488 V493.75 Z" fill="#46577e" stroke="#ffffff" stroke-opacity="0.7" stroke-width="1.5"/>
<path d="M441.5,493.75 V461 H588 A27,27 0 0 1 615,488 V493.75 Z" fill="#46577e"/>
<text x="528.25" y="484.4" font-size="14.5" fill="#ffffff" font-weight="bold" text-anchor="middle" >Variación % interanual</text>
<text x="528.25" y="508.75" font-size="13.6" fill="#ffffff" font-weight="normal" text-anchor="middle" >con respecto a igual</text>
<text x="528.25" y="524.4" font-size="13.6" fill="#ffffff" font-weight="normal" text-anchor="middle" >mes del año anterior</text>
<path d="M948.75,292.5 H1124 V305.9 A27,27 0 0 1 1097,332.9 H1044.3 L1036.3,341.4 L1028.3,332.9 H975.75 A27,27 0 0 1 948.75,305.9 Z" fill="#9aa5c8" stroke="#ffffff" stroke-opacity="0.7" stroke-width="1.5"/>
<path d="M1124,292.5 V259 H975.75 A27,27 0 0 0 948.75,286 V292.5 Z" fill="#6b80b3" stroke="#ffffff" stroke-opacity="0.7" stroke-width="1.5"/>
<path d="M1124,292.5 V259 H975.75 A27,27 0 0 0 948.75,286 V292.5 Z" fill="#6b80b3"/>
<text x="1036.375" y="283" font-size="14.5" fill="#ffffff" font-weight="bold" text-anchor="middle" >Variación %</text>
<text x="1036.375" y="307.4" font-size="13.6" fill="#ffffff" font-weight="normal" text-anchor="middle" >con respecto al</text>
<text x="1036.375" y="322.2" font-size="13.6" fill="#ffffff" font-weight="normal" text-anchor="middle" >mes anterior</text>
<path d="M814.5,383.4 H954.7 V397.2 A27,27 0 0 1 927.7,424.2 H892.6 L884.6,433 L876.6,424.2 H841.5 A27,27 0 0 1 814.5,397.2 Z" fill="#7b88ab" stroke="#ffffff" stroke-opacity="0.7" stroke-width="1.5"/>
<path d="M954.7,383.4 V349.9 H841.5 A27,27 0 0 0 814.5,376.9 V383.4 Z" fill="#55689a" stroke="#ffffff" stroke-opacity="0.7" stroke-width="1.5"/>
<path d="M954.7,383.4 V349.9 H841.5 A27,27 0 0 0 814.5,376.9 V383.4 Z" fill="#55689a"/>
<text x="884.6" y="373.2" font-size="14.5" fill="#ffffff" font-weight="bold" text-anchor="middle" >Variación %</text>
<text x="884.6" y="406.2" font-size="13.6" fill="#ffffff" font-weight="normal" text-anchor="middle" >acumulada del año</text>
<path d="M954.7,494 H1129.8 V507.70000000000005 A27,27 0 0 1 1102.8,534.7 H1050.2 L1042.2,543 L1034.2,534.7 H981.7 A27,27 0 0 1 954.7,507.70000000000005 Z" fill="#6f7a98" stroke="#ffffff" stroke-opacity="0.7" stroke-width="1.5"/>
<path d="M1129.8,494 V460.8 H981.7 A27,27 0 0 0 954.7,487.8 V494 Z" fill="#46577e" stroke="#ffffff" stroke-opacity="0.7" stroke-width="1.5"/>
<path d="M1129.8,494 V460.8 H981.7 A27,27 0 0 0 954.7,487.8 V494 Z" fill="#46577e"/>
<text x="1042.25" y="483.7" font-size="14.5" fill="#ffffff" font-weight="bold" text-anchor="middle" >Variación % interanual</text>
<text x="1042.25" y="509.2" font-size="13.6" fill="#ffffff" font-weight="normal" text-anchor="middle" >con respecto a igual</text>
<text x="1042.25" y="525.2" font-size="13.6" fill="#ffffff" font-weight="normal" text-anchor="middle" >mes del año anterior</text>
<path d="M349.7,678 H757.5 V714.4 A55,55 0 0 1 702.5,769.4 H349.7 Z" fill="#f3d0db"/>
<path d="M349.7,769.4 H248.2 A52.2,52.2 0 0 1 248.2,665 H300 C325,665 330,678 349.7,678 Z" fill="#dc6790"/>
<text x="273.3" y="725" font-size="30" fill="#ffffff" font-weight="bold" text-anchor="middle" textLength="124.6" lengthAdjust="spacingAndGlyphs" >$115.873</text>
<text x="539" y="709.7" font-size="25" fill="#7e1242" font-weight="bold" text-anchor="middle" textLength="252" lengthAdjust="spacingAndGlyphs" >Canasta básica alimentaria</text>
<text x="547" y="731" font-size="18.6" fill="#b0457b" font-weight="normal" text-anchor="middle" textLength="204" lengthAdjust="spacingAndGlyphs" >Línea de indigencia para</text>
<text x="549" y="753.8" font-size="18.6" fill="#b0457b" font-weight="normal" text-anchor="middle" textLength="229.8" lengthAdjust="spacingAndGlyphs" >un adulto equivalente (en $)</text>
<path d="M808.3,678 H1214.3 V769.2 H868.3 A60,60 0 0 1 808.3,709.2 Z" fill="#d6d3e0"/>
<path d="M1214.3,678 C1234,678 1239,665 1264,665 H1315.8 A52.1,52.1 0 0 1 1315.8,769.2 H1214.3 Z" fill="#958eb0"/>
<text x="1291.2" y="723" font-size="30" fill="#ffffff" font-weight="bold" text-anchor="middle" textLength="123.7" lengthAdjust="spacingAndGlyphs" >$250.286</text>
<text x="1007" y="709" font-size="25" fill="#241a4e" font-weight="bold" text-anchor="middle" textLength="189.3" lengthAdjust="spacingAndGlyphs" >Canasta básica total</text>
<text x="1009.6" y="731.7" font-size="18.6" fill="#7a72a0" font-weight="normal" text-anchor="middle" textLength="188.2" lengthAdjust="spacingAndGlyphs" >Línea de pobreza para</text>
<text x="1014" y="754" font-size="18.6" fill="#7a72a0" font-weight="normal" text-anchor="middle" textLength="232" lengthAdjust="spacingAndGlyphs" >un adulto equivalente (en $)</text>
<rect x="230" y="792" width="1117.5" height="431" fill="url(#gPlot)"/>
<rect x="230" y="790.95" width="1117.5" height="2.5" fill="#dde0e9"/>
<text x="203.5" y="799.4000000000001" font-size="18.5" fill="#4b505e" font-weight="normal" text-anchor="end" >35</text>
<rect x="230" y="852.15" width="1117.5" height="2.5" fill="#dde0e9"/>
<text x="203.5" y="860.6" font-size="18.5" fill="#4b505e" font-weight="normal" text-anchor="end" >30</text>
<rect x="230" y="913.95" width="1117.5" height="2.5" fill="#dde0e9"/>
<text x="203.5" y="922.4000000000001" font-size="18.5" fill="#4b505e" font-weight="normal" text-anchor="end" >25</text>
<rect x="230" y="975.65" width="1117.5" height="2.5" fill="#dde0e9"/>
<text x="203.5" y="984.1" font-size="18.5" fill="#4b505e" font-weight="normal" text-anchor="end" >20</text>
<rect x="230" y="1037.35" width="1117.5" height="2.5" fill="#dde0e9"/>
<text x="203.5" y="1045.8" font-size="18.5" fill="#4b505e" font-weight="normal" text-anchor="end" >15</text>
<rect x="230" y="1098.85" width="1117.5" height="2.5" fill="#dde0e9"/>
<text x="203.5" y="1107.3" font-size="18.5" fill="#4b505e" font-weight="normal" text-anchor="end" >10</text>
<rect x="230" y="1160.5" width="1117.5" height="2.5" fill="#dde0e9"/>
<text x="203.5" y="1168.95" font-size="18.5" fill="#4b505e" font-weight="normal" text-anchor="end" >5</text>
<text x="203.5" y="1230.5" font-size="18.5" fill="#4b505e" font-weight="normal" text-anchor="end" >0</text>
<rect x="230.50" y="1108.82" width="31" height="114.48" fill="url(#gPink)"/>
<rect x="269.50" y="1121.54" width="31" height="101.76" fill="url(#gPurp)"/>
<text transform="translate(254.00,1202.5) rotate(-90)" x="0" y="0" font-size="21.5" font-weight="bold" fill="#7d1d47">9,0</text>
<text transform="translate(293.00,1202.5) rotate(-90)" x="0" y="0" font-size="21.5" font-weight="bold" fill="#ffffff">8,0</text>
<rect x="317.70" y="1130.44" width="31" height="92.86" fill="url(#gPink)"/>
<rect x="356.70" y="1143.16" width="31" height="80.14" fill="url(#gPurp)"/>
<text transform="translate(341.20,1202.5) rotate(-90)" x="0" y="0" font-size="21.5" font-weight="bold" fill="#7d1d47">7,3</text>
<text transform="translate(380.20,1202.5) rotate(-90)" x="0" y="0" font-size="21.5" font-weight="bold" fill="#ffffff">6,3</text>
<rect x="404.90" y="1157.16" width="31" height="66.14" fill="url(#gPink)"/>
<rect x="443.90" y="1131.72" width="31" height="91.58" fill="url(#gPurp)"/>
<text transform="translate(428.40,1202.5) rotate(-90)" x="0" y="0" font-size="21.5" font-weight="bold" fill="#7d1d47">5,2</text>
<text transform="translate(467.40,1202.5) rotate(-90)" x="0" y="0" font-size="21.5" font-weight="bold" fill="#ffffff">7,2</text>
<rect x="492.10" y="1157.16" width="31" height="66.14" fill="url(#gPink)"/>
<rect x="531.10" y="1138.08" width="31" height="85.22" fill="url(#gPurp)"/>
<text transform="translate(515.60,1202.5) rotate(-90)" x="0" y="0" font-size="21.5" font-weight="bold" fill="#7d1d47">5,2</text>
<text transform="translate(554.60,1202.5) rotate(-90)" x="0" y="0" font-size="21.5" font-weight="bold" fill="#ffffff">6,7</text>
<rect x="579.30" y="1132.99" width="31" height="90.31" fill="url(#gPink)"/>
<rect x="618.30" y="1132.99" width="31" height="90.31" fill="url(#gPurp)"/>
<text transform="translate(602.80,1202.5) rotate(-90)" x="0" y="0" font-size="21.5" font-weight="bold" fill="#7d1d47">7,1</text>
<text transform="translate(641.80,1202.5) rotate(-90)" x="0" y="0" font-size="21.5" font-weight="bold" fill="#ffffff">7,1</text>
<rect x="666.50" y="1007.06" width="31" height="216.24" fill="url(#gPink)"/>
<rect x="705.50" y="1041.40" width="31" height="181.90" fill="url(#gPurp)"/>
<text transform="translate(690.00,1202.5) rotate(-90)" x="0" y="0" font-size="21.5" font-weight="bold" fill="#7d1d47">17,0</text>
<text transform="translate(729.00,1202.5) rotate(-90)" x="0" y="0" font-size="21.5" font-weight="bold" fill="#ffffff">14,3</text>
<rect x="753.70" y="1055.40" width="31" height="167.90" fill="url(#gPink)"/>
<rect x="792.70" y="1068.12" width="31" height="155.18" fill="url(#gPurp)"/>
<text transform="translate(777.20,1202.5) rotate(-90)" x="0" y="0" font-size="21.5" font-weight="bold" fill="#7d1d47">13,2</text>
<text transform="translate(816.20,1202.5) rotate(-90)" x="0" y="0" font-size="21.5" font-weight="bold" fill="#ffffff">12,2</text>
<rect x="840.90" y="1113.91" width="31" height="109.39" fill="url(#gPink)"/>
<rect x="879.90" y="1120.27" width="31" height="103.03" fill="url(#gPurp)"/>
<text transform="translate(864.40,1202.5) rotate(-90)" x="0" y="0" font-size="21.5" font-weight="bold" fill="#7d1d47">8,6</text>
<text transform="translate(903.40,1202.5) rotate(-90)" x="0" y="0" font-size="21.5" font-weight="bold" fill="#ffffff">8,1</text>
<rect x="928.10" y="1029.96" width="31" height="193.34" fill="url(#gPink)"/>
<rect x="967.10" y="1056.67" width="31" height="166.63" fill="url(#gPurp)"/>
<text transform="translate(951.60,1202.5) rotate(-90)" x="0" y="0" font-size="21.5" font-weight="bold" fill="#7d1d47">15,2</text>
<text transform="translate(990.60,1202.5) rotate(-90)" x="0" y="0" font-size="21.5" font-weight="bold" fill="#ffffff">13,1</text>
<rect x="1015.30" y="840.43" width="31" height="382.87" fill="url(#gPink)"/>
<rect x="1054.30" y="879.86" width="31" height="343.44" fill="url(#gPurp)"/>
<text transform="translate(1038.80,1202.5) rotate(-90)" x="0" y="0" font-size="21.5" font-weight="bold" fill="#7d1d47">30,1</text>
<text transform="translate(1077.80,1202.5) rotate(-90)" x="0" y="0" font-size="21.5" font-weight="bold" fill="#ffffff">27,0</text>
<rect x="1102.50" y="986.71" width="31" height="236.59" fill="url(#gPink)"/>
<rect x="1141.50" y="963.81" width="31" height="259.49" fill="url(#gPurp)"/>
<text transform="translate(1126.00,1202.5) rotate(-90)" x="0" y="0" font-size="21.5" font-weight="bold" fill="#7d1d47">18,6</text>
<text transform="translate(1165.00,1202.5) rotate(-90)" x="0" y="0" font-size="21.5" font-weight="bold" fill="#ffffff">20,4</text>
<rect x="1189.70" y="1056.67" width="31" height="166.63" fill="url(#gPink)"/>
<rect x="1228.70" y="1022.32" width="31" height="200.98" fill="url(#gPurp)"/>
<text transform="translate(1213.20,1202.5) rotate(-90)" x="0" y="0" font-size="21.5" font-weight="bold" fill="#7d1d47">13,1</text>
<text transform="translate(1252.20,1202.5) rotate(-90)" x="0" y="0" font-size="21.5" font-weight="bold" fill="#ffffff">15,8</text>
<rect x="1276.90" y="1084.65" width="31" height="138.65" fill="url(#gPink)"/>
<rect x="1315.90" y="1071.93" width="31" height="151.37" fill="url(#gPurp)"/>
<text transform="translate(1300.40,1202.5) rotate(-90)" x="0" y="0" font-size="21.5" font-weight="bold" fill="#7d1d47">10,9</text>
<text transform="translate(1339.40,1202.5) rotate(-90)" x="0" y="0" font-size="21.5" font-weight="bold" fill="#ffffff">11,9</text>
<rect x="230.5" y="1223.3" width="1116.5" height="72.3" fill="#bcc5dc"/>
<rect x="230.50" y="1223.3" width="70.3" height="72.3" fill="#7b8fba"/>
<text transform="translate(277.75,1238.5) rotate(-90)" x="0" y="0" font-size="25.8" fill="#ffffff" stroke="#ffffff" stroke-width="0.55" text-anchor="end" textLength="42.7" lengthAdjust="spacingAndGlyphs">MAR</text>
<rect x="317.70" y="1223.3" width="70.3" height="72.3" fill="#7b8fba"/>
<text transform="translate(366.60,1238.5) rotate(-90)" x="0" y="0" font-size="25.8" fill="#ffffff" stroke="#ffffff" stroke-width="0.55" text-anchor="end" textLength="38.5" lengthAdjust="spacingAndGlyphs">ABR</text>
<rect x="404.90" y="1223.3" width="70.3" height="72.3" fill="#7b8fba"/>
<text transform="translate(454.30,1238.5) rotate(-90)" x="0" y="0" font-size="25.8" fill="#ffffff" stroke="#ffffff" stroke-width="0.55" text-anchor="end" textLength="42" lengthAdjust="spacingAndGlyphs">MAY</text>
<rect x="492.10" y="1223.3" width="70.3" height="72.3" fill="#7b8fba"/>
<text transform="translate(541.50,1238.5) rotate(-90)" x="0" y="0" font-size="25.8" fill="#ffffff" stroke="#ffffff" stroke-width="0.55" text-anchor="end" textLength="32.9" lengthAdjust="spacingAndGlyphs">JUN</text>
<rect x="579.30" y="1223.3" width="70.3" height="72.3" fill="#7b8fba"/>
<text transform="translate(629.70,1238.5) rotate(-90)" x="0" y="0" font-size="25.8" fill="#ffffff" stroke="#ffffff" stroke-width="0.55" text-anchor="end" textLength="28.7" lengthAdjust="spacingAndGlyphs">JUL</text>
<rect x="666.50" y="1223.3" width="70.3" height="72.3" fill="#7b8fba"/>
<text transform="translate(715.90,1238.5) rotate(-90)" x="0" y="0" font-size="25.8" fill="#ffffff" stroke="#ffffff" stroke-width="0.55" text-anchor="end" textLength="39.2" lengthAdjust="spacingAndGlyphs">AGO</text>
<rect x="753.70" y="1223.3" width="70.3" height="72.3" fill="#7b8fba"/>
<text transform="translate(802.80,1238.5) rotate(-90)" x="0" y="0" font-size="25.8" fill="#ffffff" stroke="#ffffff" stroke-width="0.55" text-anchor="end" textLength="32.6" lengthAdjust="spacingAndGlyphs">SEP</text>
<rect x="840.90" y="1223.3" width="70.3" height="72.3" fill="#7b8fba"/>
<text transform="translate(889.75,1238.5) rotate(-90)" x="0" y="0" font-size="25.8" fill="#ffffff" stroke="#ffffff" stroke-width="0.55" text-anchor="end" textLength="34.5" lengthAdjust="spacingAndGlyphs">OCT</text>
<rect x="928.10" y="1223.3" width="70.3" height="72.3" fill="#7b8fba"/>
<text transform="translate(975.65,1238.5) rotate(-90)" x="0" y="0" font-size="25.8" fill="#ffffff" stroke="#ffffff" stroke-width="0.55" text-anchor="end" textLength="39" lengthAdjust="spacingAndGlyphs">NOV</text>
<rect x="1015.30" y="1223.3" width="70.3" height="72.3" fill="#7b8fba"/>
<text transform="translate(1062.95,1238.5) rotate(-90)" x="0" y="0" font-size="25.8" fill="#ffffff" stroke="#ffffff" stroke-width="0.55" text-anchor="end" textLength="27.8" lengthAdjust="spacingAndGlyphs">DIC</text>
<rect x="1102.50" y="1223.3" width="70.3" height="72.3" fill="#4f6291"/>
<text transform="translate(1150.75,1238.5) rotate(-90)" x="0" y="0" font-size="25.8" fill="#ffffff" stroke="#ffffff" stroke-width="0.55" text-anchor="end" textLength="34.5" lengthAdjust="spacingAndGlyphs">ENE</text>
<rect x="1189.70" y="1223.3" width="70.3" height="72.3" fill="#4f6291"/>
<text transform="translate(1238.45,1238.5) rotate(-90)" x="0" y="0" font-size="25.8" fill="#ffffff" stroke="#ffffff" stroke-width="0.55" text-anchor="end" textLength="32.6" lengthAdjust="spacingAndGlyphs">FEB</text>
<rect x="1276.90" y="1223.3" width="70.3" height="72.3" fill="#4f6291"/>
<text transform="translate(1316.45,1238.5) rotate(-90)" x="0" y="0" font-size="25.8" fill="#ffffff" stroke="#ffffff" stroke-width="0.55" text-anchor="end" textLength="42" lengthAdjust="spacingAndGlyphs">MAR</text>
<path d="M230.5,1295.6 H1102 V1345.6 H250.5 A20,20 0 0 1 230.5,1325.6 Z" fill="#7b8fba"/>
<path d="M1102,1295.6 H1347 V1325.6 A20,20 0 0 1 1327,1345.6 H1102 Z" fill="#4f6291"/>
<rect x="230.5" y="1295.1" width="1116.5" height="1" fill="#98a8cc" opacity="0.6"/>
<text x="705.3" y="1330.6" font-size="27" fill="#ffffff" font-weight="bold" text-anchor="middle" >2023</text>
<text x="1224.5" y="1330.6" font-size="27" fill="#ffffff" font-weight="bold" text-anchor="middle" >2024</text>
<path d="M1292.4,922 V877.4 A10,10 0 0 1 1302.4,867.4 H1392.6 A10,10 0 0 1 1402.6,877.4 V912 A10,10 0 0 1 1392.6,922 Z" fill="#f6d3df"/>
<path d="M1292.4,1049 V877.4 A10,10 0 0 1 1302.4,867.4 H1347.5" fill="none" stroke="#c2557f" stroke-width="1.8"/>
<circle cx="1292.4" cy="1056.4" r="6.3" fill="#f7d3df" stroke="#c9709a" stroke-width="2.2"/>
<text x="1348" y="904" font-size="29.5" fill="#5a0a1e" font-weight="bold" text-anchor="middle" textLength="83.3" lengthAdjust="spacingAndGlyphs" >10,9%</text>
<path d="M1332.3,988.4 V944.1 A10,10 0 0 1 1342.3,934.1 H1432.6 A10,10 0 0 1 1442.6,944.1 V978.4 A10,10 0 0 1 1432.6,988.4 Z" fill="#dddae6"/>
<path d="M1332.3,1015.5 V944.1 A10,10 0 0 1 1342.3,934.1 H1388" fill="none" stroke="#2e2a4f" stroke-width="1.8"/>
<circle cx="1332.3" cy="1022.7" r="6.3" fill="#d9d6e6" stroke="#5e5883" stroke-width="2.2"/>
<text x="1388.3" y="971" font-size="29.5" fill="#27215a" font-weight="bold" text-anchor="middle" textLength="83.8" lengthAdjust="spacingAndGlyphs" >11,9%</text>
<path d="M163.6,1429 V1470.5 A117,117 0 0 0 280.6,1587.5" fill="none" stroke="#6e3a60" stroke-width="1.6"/>
<path d="M163.6,1586.5 V1628 A117,117 0 0 0 280.6,1745" fill="none" stroke="#6e3a60" stroke-width="1.6"/>
<path d="M234,1419.3 A117,117 0 0 0 280.6,1429 V1745 A117,117 0 0 1 234,1735.3 Z" fill="#dd6892"/>
<text transform="translate(266,1589.2) rotate(-90)" x="0" y="0" font-size="25.5" fill="#fde8f0" text-anchor="middle" textLength="211.6" lengthAdjust="spacingAndGlyphs">Canasta básica alimentaria</text>
<path d="M1408.6,1429.7 V1466 A121,121 0 0 1 1289.6,1587" fill="none" stroke="#27244a" stroke-width="1.8"/>
<path d="M1408.6,1586.8 V1624 A121,121 0 0 1 1289.6,1745" fill="none" stroke="#27244a" stroke-width="1.8"/>
<path d="M1289.6,1429 A121,121 0 0 0 1338.8,1418.5 V1734.5 A121,121 0 0 1 1289.6,1745 Z" fill="#7b7299"/>
<text transform="translate(1306.5,1575.9) rotate(90)" x="0" y="0" font-size="25.5" fill="#f3f1f8" text-anchor="middle" textLength="158" lengthAdjust="spacingAndGlyphs">Canasta básica total</text>
<path d="M362.5,1461.9 V1419.25 A53,53 0 0 1 415.5,1366.25 H1161.6 A48,48 0 0 1 1209.6,1414.25 V1461.9 Z" fill="#889ebd"/>
<path d="M362.5,1461.9 V1467.3 Q362.5,1489.3 384.5,1489.3 H400.5 C412.5,1489.3 418.5,1496.3 424.5,1502.3 C428.5,1507.3 432.5,1510.3 440.5,1510.3 H712 A20,20 0 0 0 732,1490.3 V1461.9 Z" fill="#e383a7"/>
<path d="M1209.6,1461.9 V1464.3 Q1209.6,1483.3 1190.6,1483.3 H1170.6 C1158.6,1483.3 1152.6,1492.3 1146.6,1501.3 C1142.6,1507.3 1138.6,1510.3 1130.6,1510.3 H852 A20,20 0 0 1 832,1490.3 V1461.9 Z" fill="#7c6f9c"/>
<text x="534.4" y="1423.75" font-size="29.5" fill="#ffffff" font-weight="normal" text-anchor="middle" textLength="251.25" lengthAdjust="spacingAndGlyphs" >Hogar de 3 integrantes</text>
<text x="557.5" y="1494.8" font-size="30.5" fill="#ffffff" font-weight="bold" text-anchor="middle" textLength="130" lengthAdjust="spacingAndGlyphs" >$285.048</text>
<text x="1021.7" y="1494.8" font-size="30.5" fill="#ffffff" font-weight="bold" text-anchor="middle" textLength="133.4" lengthAdjust="spacingAndGlyphs" >$615.705</text>
<text x="878.7" y="1397.2" font-size="17.8" fill="#ffffff" font-weight="normal" text-anchor="start" textLength="255.2" lengthAdjust="spacingAndGlyphs" >Compuesto por una mujer de 35</text>
<text x="878.7" y="1418.4" font-size="17.8" fill="#ffffff" font-weight="normal" text-anchor="start" textLength="285.9" lengthAdjust="spacingAndGlyphs" >años, su hijo de 18 años y su madre</text>
<text x="878.7" y="1440" font-size="17.8" fill="#ffffff" font-weight="normal" text-anchor="start" textLength="88.1" lengthAdjust="spacingAndGlyphs" >de 61 años</text>
<circle cx="786" cy="1439.75" r="74" fill="#f4f4f8" stroke="#ffffff" stroke-width="2.5"/>
<g transform="translate(706,1359.75)"><g clip-path="url(#famclip1)"><rect x="0" y="0" width="160" height="160" fill="#fbfcfd"/><polygon points="61,35 80,21 100,34 152,62 160,160 0,160 0,80" fill="#b8c0de"/><polygon points="70,54 80,47 92,54 96,72 68,72" fill="#ffffff"/><path d="M10,82 C16,60 20,40 30,31 C42,22 60,24 67,38 C73,50 76,62 85,70 C82,80 72,86 62,84 C50,93 24,96 10,82 Z" fill="#5b5f64"/><polygon points="45,68 60,70 66,94 46,94" fill="#e9a07c"/><ellipse cx="52" cy="59" rx="12" ry="13.5" fill="#e9a07c"/><path d="M36,54 C38,42 62,40 67,53 L64,50 L40,52 Z" fill="#5b5f64"/><path d="M12,102 C20,88 40,88 48,92 L66,92 C68,110 66,130 64,140 L20,140 C12,125 10,110 12,102 Z" fill="#8b9dcc"/><ellipse cx="21" cy="110" rx="10" ry="17" fill="#e9a07c"/><path d="M86,64 C85,44 100,34 115,35 C132,36 142,50 141,70 C138,76 130,76 125,73 L98,75 C90,75 86,72 86,64 Z" fill="#e4e6f0"/><ellipse cx="112" cy="63" rx="13" ry="14" fill="#f1d9a8"/><path d="M94,57 C96,45 128,45 131,57 Z" fill="#e4e6f0"/><rect x="104" y="72" width="16" height="12" fill="#f1d9a8"/><ellipse cx="146" cy="88" rx="11" ry="16" fill="#c8dce8"/><path d="M96,82 C110,76 135,78 150,94 L152,134 L98,134 Z" fill="#7f93c6"/><path d="M66,96 H96 V118 C93,127 71,127 67,118 Z" fill="#e89f78"/><path d="M63,93 C62,82 72,78 84,79 C96,80 101,86 99,95 C98,99 92,100 88,98 L68,98 Z" fill="#55595e"/><path d="M36,137 C50,121 64,119 72,121 L92,123 C110,123 126,129 134,137 L134,160 L36,160 Z" fill="#4f5c63"/><ellipse cx="86" cy="155" rx="22" ry="6" fill="#86b6c3"/></g><circle cx="80" cy="80" r="73.5" fill="none" stroke="#ffffff" stroke-width="2"/></g>
<path d="M362.5,1619.25 V1577.5 A53,53 0 0 1 415.5,1524.5 H1161.6 A48,48 0 0 1 1209.6,1572.5 V1619.25 Z" fill="#7b90ba"/>
<path d="M362.5,1619.25 V1625 Q362.5,1647 384.5,1647 H400.5 C412.5,1647 418.5,1654 424.5,1660 C428.5,1665 432.5,1668 440.5,1668 H712 A20,20 0 0 0 732,1648 V1619.25 Z" fill="#df6691"/>
<path d="M1209.6,1619.25 V1622 Q1209.6,1641 1190.6,1641 H1170.6 C1158.6,1641 1152.6,1650 1146.6,1659 C1142.6,1665 1138.6,1668 1130.6,1668 H852 A20,20 0 0 1 832,1648 V1619.25 Z" fill="#6c6592"/>
<text x="534.4" y="1578.75" font-size="29.5" fill="#ffffff" font-weight="normal" text-anchor="middle" textLength="251.25" lengthAdjust="spacingAndGlyphs" >Hogar de 4 integrantes</text>
<text x="557.5" y="1652.5" font-size="30.5" fill="#ffffff" font-weight="bold" text-anchor="middle" textLength="130" lengthAdjust="spacingAndGlyphs" >$358.049</text>
<text x="1021.7" y="1652.5" font-size="30.5" fill="#ffffff" font-weight="bold" text-anchor="middle" textLength="133.4" lengthAdjust="spacingAndGlyphs" >$773.385</text>
<text x="878.7" y="1557.1" font-size="17.8" fill="#ffffff" font-weight="normal" text-anchor="start" textLength="293.8" lengthAdjust="spacingAndGlyphs" >Compuesto por un varón de 35 años,</text>
<text x="878.7" y="1578.2" font-size="17.8" fill="#ffffff" font-weight="normal" text-anchor="start" textLength="274.0" lengthAdjust="spacingAndGlyphs" >una mujer de 31 años, un hijo de 6</text>
<text x="878.7" y="1599.4" font-size="17.8" fill="#ffffff" font-weight="normal" text-anchor="start" textLength="202.8" lengthAdjust="spacingAndGlyphs" >años y una hija de 8 años</text>
<circle cx="786" cy="1598.0" r="74" fill="#f4f4f8" stroke="#ffffff" stroke-width="2.5"/>
<g transform="translate(706,1518.0)"><g clip-path="url(#famclip2)"><rect x="0" y="0" width="160" height="160" fill="#fbfcfd"/><polygon points="0,78 80,26 153,70 160,160 0,160" fill="#8a9dcc"/><polygon points="72,60 80,54 90,60 92,78 70,78" fill="#ffffff"/><path d="M12,92 C14,60 22,40 35,33 C50,28 64,35 70,50 C76,62 82,70 90,78 C86,90 76,94 66,90 C52,100 25,100 12,92 Z" fill="#5b5f64"/><polygon points="50,76 62,78 66,98 50,98" fill="#e9a07c"/><ellipse cx="55" cy="65" rx="12" ry="13.5" fill="#e9a07c"/><path d="M40,59 C42,47 66,45 70,58 L67,55 L44,57 Z" fill="#5b5f64"/><path d="M14,106 C25,95 45,92 60,96 L72,96 C78,110 78,135 72,150 L25,150 C15,130 12,115 14,106 Z" fill="#7f93c8"/><ellipse cx="23" cy="116" rx="11" ry="17" fill="#e9a07c"/><polygon points="104,72 124,68 132,96 106,96" fill="#e9a07c"/><path d="M84,96 C100,88 130,88 154,95 L156,142 L88,142 Z" fill="#86b3c4"/><path d="M91,44 L117,47 L119,66 L92,63 C89,58 89,50 91,44 Z" fill="#e89e77"/><path d="M92,60 C100,64 110,62 119,56 L121,72 C116,79 100,81 95,77 C92,72 92,66 92,60 Z" fill="#52575c"/><path d="M90,40 C95,31 120,30 129,39 L127,62 L118,56 L117,46 L92,46 C90,45 89,43 90,40 Z" fill="#52575c"/><ellipse cx="119" cy="55" rx="4" ry="6" fill="#e9a07c"/><ellipse cx="66" cy="126" rx="13" ry="14" fill="#e89f78"/><path d="M40,112 C37,96 55,90 70,94 C80,98 83,108 79,116 L60,112 L52,120 L45,122 Z" fill="#565b60"/><path d="M51,100 L49,110 M55,99 L53,109 M60,99 L58,108 M64,100 L62,108 M68,101 L67,108" stroke="#9cc2cc" stroke-width="1.4"/><path d="M44,146 C55,136 78,136 92,146 L95,160 L44,160 Z" fill="#7fb2c0"/><path d="M96,108 H126 V128 C122,136 102,136 98,128 Z" fill="#e89f78"/><path d="M95,109 C93,96 104,92 116,93 C128,94 133,102 128,113 L96,113 Z" fill="#53575c"/><path d="M84,146 C95,132 125,130 132,140 L132,160 L84,160 Z" fill="#556168"/></g><circle cx="80" cy="80" r="73.5" fill="none" stroke="#ffffff" stroke-width="2"/></g>
<path d="M362.5,1777 V1735 A53,53 0 0 1 415.5,1682 H1161.6 A48,48 0 0 1 1209.6,1730 V1777 Z" fill="#5b74a8"/>
<path d="M362.5,1777 V1782.5 Q362.5,1804.5 384.5,1804.5 H400.5 C412.5,1804.5 418.5,1811.5 424.5,1817.5 C428.5,1822.5 432.5,1825.5 440.5,1825.5 H712 A20,20 0 0 0 732,1805.5 V1777 Z" fill="#d9508a"/>
<path d="M1209.6,1777 V1779.5 Q1209.6,1798.5 1190.6,1798.5 H1170.6 C1158.6,1798.5 1152.6,1807.5 1146.6,1816.5 C1142.6,1822.5 1138.6,1825.5 1130.6,1825.5 H852 A20,20 0 0 1 832,1805.5 V1777 Z" fill="#5e5979"/>
<text x="534.4" y="1743.75" font-size="29.5" fill="#ffffff" font-weight="normal" text-anchor="middle" textLength="251.25" lengthAdjust="spacingAndGlyphs" >Hogar de 5 integrantes</text>
<text x="557.5" y="1810.0" font-size="30.5" fill="#ffffff" font-weight="bold" text-anchor="middle" textLength="130" lengthAdjust="spacingAndGlyphs" >$376.588</text>
<text x="1021.7" y="1810.0" font-size="30.5" fill="#ffffff" font-weight="bold" text-anchor="middle" textLength="133.4" lengthAdjust="spacingAndGlyphs" >$813.431</text>
<text x="878.7" y="1713.1" font-size="17.8" fill="#ffffff" font-weight="normal" text-anchor="start" textLength="244.3" lengthAdjust="spacingAndGlyphs" >Compuesto por un varón y una</text>
<text x="878.7" y="1734.2" font-size="17.8" fill="#ffffff" font-weight="normal" text-anchor="start" textLength="253.2" lengthAdjust="spacingAndGlyphs" >mujer, ambos de 30 años, y tres</text>
<text x="878.7" y="1755.4" font-size="17.8" fill="#ffffff" font-weight="normal" text-anchor="start" textLength="159.3" lengthAdjust="spacingAndGlyphs" >hijos de 5, 3 y 1 año</text>
<circle cx="786" cy="1755.5" r="74" fill="#f4f4f8" stroke="#ffffff" stroke-width="2.5"/>
<g transform="translate(706,1675.5)"><g clip-path="url(#famclip3)"><rect x="0" y="0" width="160" height="160" fill="#fbfcfd"/><polygon points="0,78 80,26 153,70 160,160 0,160" fill="#8a9dcc"/><polygon points="72,60 80,54 90,60 92,78 70,78" fill="#ffffff"/><path d="M12,92 C14,60 22,40 35,33 C50,28 64,35 70,50 C76,62 82,70 90,78 C86,90 76,94 66,90 C52,100 25,100 12,92 Z" fill="#5b5f64"/><polygon points="50,76 62,78 66,98 50,98" fill="#e9a07c"/><ellipse cx="55" cy="65" rx="12" ry="13.5" fill="#e9a07c"/><path d="M40,59 C42,47 66,45 70,58 L67,55 L44,57 Z" fill="#5b5f64"/><path d="M14,106 C25,95 45,92 60,96 L72,96 C78,110 78,135 72,150 L25,150 C15,130 12,115 14,106 Z" fill="#7f93c8"/><ellipse cx="23" cy="116" rx="11" ry="17" fill="#e9a07c"/><polygon points="104,72 124,68 132,96 106,96" fill="#e9a07c"/><path d="M84,96 C100,88 130,88 154,95 L156,142 L88,142 Z" fill="#86b3c4"/><path d="M91,44 L117,47 L119,66 L92,63 C89,58 89,50 91,44 Z" fill="#e89e77"/><path d="M92,60 C100,64 110,62 119,56 L121,72 C116,79 100,81 95,77 C92,72 92,66 92,60 Z" fill="#52575c"/><path d="M90,40 C95,31 120,30 129,39 L127,62 L118,56 L117,46 L92,46 C90,45 89,43 90,40 Z" fill="#52575c"/><ellipse cx="119" cy="55" rx="4" ry="6" fill="#e9a07c"/><path d="M66,96 C70,88 92,88 96,96 L98,125 L66,125 Z" fill="#8cc6be"/><ellipse cx="81" cy="80" rx="13" ry="15" fill="#eaa884"/><path d="M70,72 C72,64 90,62 93,72" fill="none" stroke="#f3c8a8" stroke-width="3"/><ellipse cx="66" cy="126" rx="13" ry="14" fill="#e89f78"/><path d="M40,112 C37,96 55,90 70,94 C80,98 83,108 79,116 L60,112 L52,120 L45,122 Z" fill="#565b60"/><path d="M51,100 L49,110 M55,99 L53,109 M60,99 L58,108 M64,100 L62,108 M68,101 L67,108" stroke="#9cc2cc" stroke-width="1.4"/><path d="M44,146 C55,136 78,136 92,146 L95,160 L44,160 Z" fill="#7fb2c0"/><path d="M96,108 H126 V128 C122,136 102,136 98,128 Z" fill="#e89f78"/><path d="M95,109 C93,96 104,92 116,93 C128,94 133,102 128,113 L96,113 Z" fill="#53575c"/><path d="M84,146 C95,132 125,130 132,140 L132,160 L84,160 Z" fill="#556168"/></g><circle cx="80" cy="80" r="73.5" fill="none" stroke="#ffffff" stroke-width="2"/></g>
<text x="86" y="1933" font-size="17.5" fill="#404040" font-weight="normal" text-anchor="start" textLength="1025" lengthAdjust="spacingAndGlyphs" >Fuente: INDEC - Valorización mensual de la canasta básica alimentaria y de la canasta básica total. Gran Buenos Aires</text>
<g fill="none" stroke="#595959" stroke-width="5.8" stroke-linecap="round"><path d="M1256.3,1911 V1933.2"/><path d="M1264,1933.2 V1921.5 A12.5,12.5 0 0 1 1289,1921.5 V1933.2"/><path d="M1309.3,1907.6 A14,14 0 1 1 1297.0,1917.9"/><path d="M1325.2,1900 V1933.2"/><path d="M1359.6,1930.8 A14.5,14.5 0 1 1 1363.0,1921.5 M1334.5,1921.5 H1362.5"/><path d="M1392.8,1931.8 A14.5,14.5 0 1 1 1392.8,1911.2"/></g><circle cx="1256.3" cy="1900.8" r="3.3" fill="#595959"/>
<text x="1401.5" y="1935" font-size="36" fill="#595959" font-weight="normal" text-anchor="start" textLength="104.5" lengthAdjust="spacingAndGlyphs" >.gob.ar</text></svg></body></html>
